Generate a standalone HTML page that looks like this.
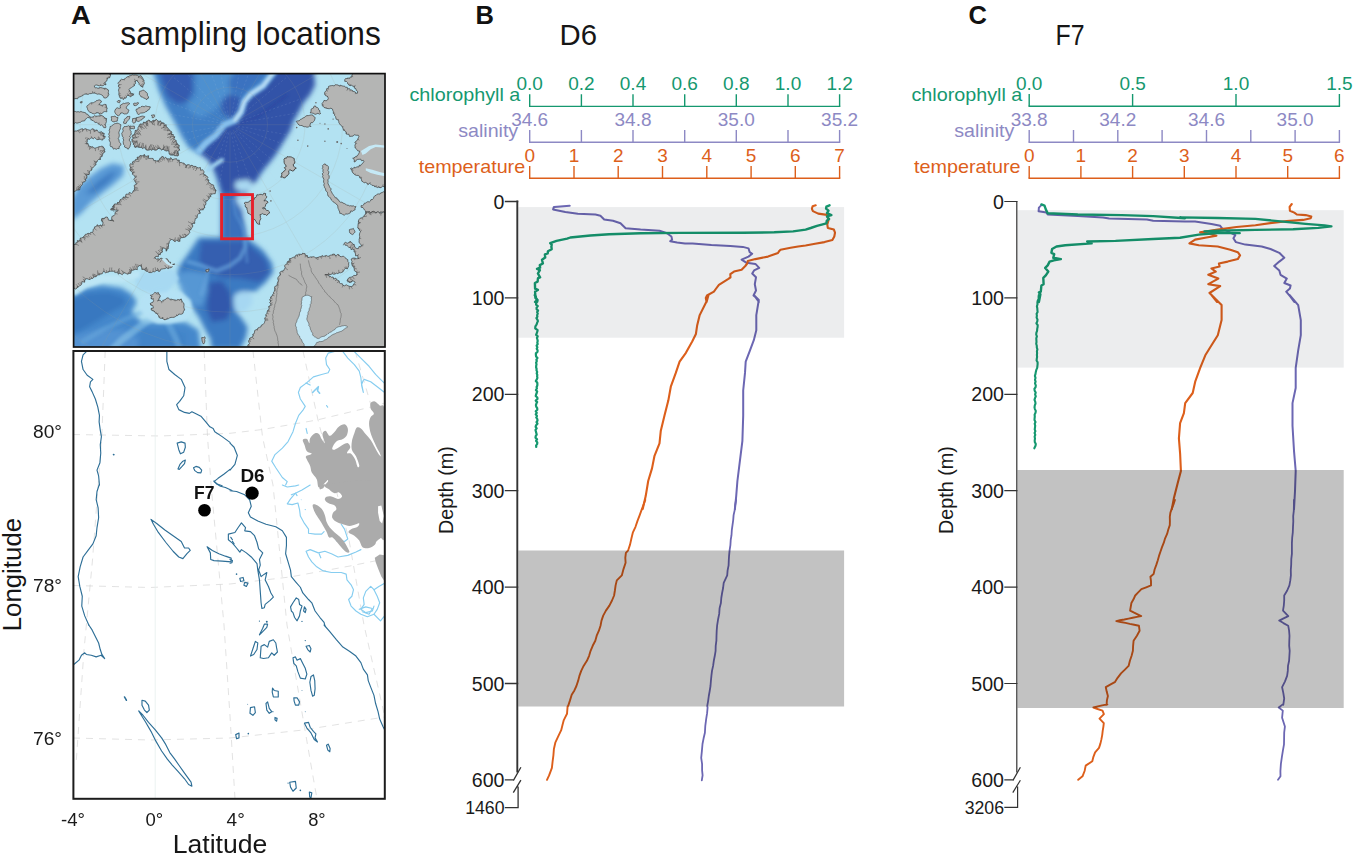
<!DOCTYPE html>
<html><head><meta charset="utf-8"><title>figure</title>
<style>html,body{margin:0;padding:0;background:#fff}svg{display:block}text{font-family:"Liberation Sans", sans-serif}</style>
</head><body>
<svg width="1353" height="856" viewBox="0 0 1353 856">
<rect width="1353" height="856" fill="#fff"/>
<text x="71" y="24.4" font-size="25.5" fill="#111" text-anchor="start" font-weight="bold" textLength="19.8" lengthAdjust="spacingAndGlyphs" >A</text>
<text x="475.5" y="24.4" font-size="25.5" fill="#111" text-anchor="start" font-weight="bold" >B</text>
<text x="968.5" y="24.4" font-size="25.5" fill="#111" text-anchor="start" font-weight="bold" >C</text>
<text x="120.3" y="45.2" font-size="32.5" fill="#161616" text-anchor="start" font-weight="normal" textLength="260.5" lengthAdjust="spacingAndGlyphs" >sampling locations</text>
<text x="559.5" y="45.2" font-size="29.5" fill="#161616" text-anchor="start" font-weight="normal" textLength="37.5" lengthAdjust="spacingAndGlyphs" >D6</text>
<text x="1055.5" y="45.2" font-size="29.5" fill="#161616" text-anchor="start" font-weight="normal" textLength="29" lengthAdjust="spacingAndGlyphs" >F7</text>
<defs><clipPath id="ct"><rect x="73.6" y="73.6" width="311.4" height="273.4"/></clipPath><filter id="bl" x="-10%" y="-10%" width="120%" height="120%"><feGaussianBlur stdDeviation="2.6"/></filter><filter id="bl2" x="-10%" y="-10%" width="120%" height="120%"><feGaussianBlur stdDeviation="1.6"/></filter></defs>
<g clip-path="url(#ct)">
<rect x="70" y="70" width="320" height="280" fill="#b3e2f2"/>

<g filter="url(#bl)"><path d="M152.0 68.0 L159.0 91.0 L166.0 107.0 L175.0 123.0 L182.0 137.0 L189.0 148.0 L199.0 153.0 L207.0 158.0 L213.0 168.0 L217.0 180.0 L221.0 194.0 L245.0 196.0 L249.6 187.8 L256.2 181.3 L262.7 171.4 L269.3 163.3 L275.8 155.1 L280.7 146.9 L285.6 138.7 L290.5 130.5 L293.8 120.7 L298.7 112.5 L303.6 102.7 L310.2 94.5 L315.1 84.7 L313.5 68.0Z" fill="#3f7fc6" opacity="1"/><path d="M159.0 70.0 L192.0 70.0 L193.0 91.0 L187.0 102.0 L177.0 104.0 L167.0 96.0Z" fill="#355cb0" opacity="1"/><path d="M196.0 70.0 L240.0 70.0 L240.0 84.0 L226.0 100.0 L212.0 112.0 L200.0 118.0 L190.0 112.0 L186.0 104.0 L196.0 96.0Z" fill="#4e90d0" opacity="1"/><path d="M230.5 91.0 L242.0 94.0 L248.0 90.0 L262.0 76.0 L262.0 70.0 L236.0 70.0 L228.0 82.0Z" fill="#3a72c0" opacity="1"/><path d="M229.0 94.0 L241.0 97.0 L240.0 112.0 L233.6 119.4 L222.0 113.0 L221.0 102.0Z" fill="#355cb0" opacity="1"/><path d="M278.0 68.0 L313.0 68.0 L315.0 85.0 L310.0 95.0 L303.0 103.0 L298.0 113.0 L293.0 121.0 L290.0 131.0 L285.0 139.0 L280.0 147.0 L275.0 155.0 L269.0 163.0 L262.0 171.0 L256.0 181.0 L249.0 188.0 L245.0 196.0 L222.0 196.0 L219.0 182.0 L214.0 170.0 L208.0 160.0 L200.0 154.0 L206.0 144.0 L214.0 136.0 L222.0 127.0 L230.0 121.0 L236.0 120.5 L241.0 112.0 L244.0 101.5 L250.5 94.0 L263.0 86.0 L273.6 76.0Z" fill="#3252a8" opacity="1"/><path d="M235.9 181.0 L248.5 179.6 L254.2 186.6 L242.9 192.3 L234.5 188.1Z" fill="#a9d9f2" opacity="1"/><path d="M221.0 193.0 L245.0 193.0 L243.0 215.0 L247.0 240.0 L221.0 240.0Z" fill="#3b70bc" opacity="1"/><path d="M237.3 195.1 L252.0 195.1 L252.0 221.7 L245.7 216.1 L240.1 206.3 L235.9 200.7Z" fill="#b3e0f4" opacity="1"/><path d="M198.8 237.4 L246.4 237.4 L263.1 250.3 L272.1 263.1 L273.4 272.1 L265.7 282.4 L255.4 291.4 L240.0 291.4 L233.6 297.8 L234.8 309.4 L242.6 319.7 L247.7 327.4 L245.8 337.7 L240.0 349.3 L211.7 349.3 L210.4 339.0 L205.3 330.0 L198.8 317.1 L188.6 301.7 L184.7 288.8 L175.7 278.6 L179.6 265.7 L188.6 252.9Z" fill="#3a7ac2" opacity="1"/><path d="M201.4 241.3 L245.1 241.3 L265.7 259.3 L269.6 273.4 L259.3 282.4 L240.0 278.6 L222.0 277.3 L207.8 270.9 L198.8 260.6Z" fill="#365fb0" opacity="1"/><path d="M209.1 282.4 L222.0 281.1 L229.7 291.4 L232.3 306.8 L227.1 319.7 L211.7 322.3 L206.6 309.4 L207.8 294.0Z" fill="#3258ac" opacity="1"/><path d="M234.8 294.0 L245.1 291.4 L252.8 295.3 L251.6 304.3 L245.1 312.0 L237.4 312.0 L233.6 304.3Z" fill="#a6d7f2" opacity="1"/><path d="M175.7 273.4 L188.6 270.9 L206.6 273.4 L207.8 291.4 L201.4 306.8 L191.1 304.3 L182.1 294.0Z" fill="#5a9ad6" opacity="0.9"/><path d="M71.6 199.2 L78.2 187.0 L88.0 178.0 L101.1 168.2 L112.5 163.3 L124.0 165.7 L123.2 175.5 L113.4 184.5 L101.9 193.5 L90.4 203.3 L81.5 213.1 L71.6 220.5Z" fill="#5a9ad6" opacity="1"/><path d="M84.7 194.3 L97.8 181.2 L110.9 172.2 L117.4 171.4 L107.6 182.9 L94.5 192.7Z" fill="#3c7cc2" opacity="1"/><path d="M70.0 296.6 L85.4 288.2 L102.1 285.0 L121.4 287.8 L131.7 294.0 L136.8 301.7 L131.7 312.0 L142.0 322.3 L185.7 322.3 L198.6 330.0 L201.1 350.6 L70.0 350.6Z" fill="#4488cc" opacity="1"/><path d="M70.0 300.4 L88.0 292.7 L108.6 291.4 L124.0 296.6 L126.6 304.3 L112.4 312.0 L95.7 322.3 L82.9 330.0 L70.0 335.1Z" fill="#3778c0" opacity="1"/><path d="M70.0 337.7 L85.4 332.6 L103.4 328.7 L124.0 330.0 L136.8 337.7 L142.0 350.6 L70.0 350.6Z" fill="#5292d2" opacity="1"/><path d="M142.0 330.0 L167.7 328.7 L185.7 333.8 L185.7 350.6 L136.8 350.6Z" fill="#4284c8" opacity="1"/></g>
<g filter="url(#bl2)"><path d="M273.6 72.0 L263.1 85.8 L250.5 94.2 L244.2 101.5 L241.0 112.0 L234.7 120.5 L224.2 124.7 L215.8 135.2 L205.3 143.6 L198.9 151.0" fill="none" stroke="#86c0ec" stroke-width="6.5" opacity="1" stroke-linecap="round" stroke-linejoin="round"/><path d="M273.6 72.0 L263.1 85.8 L250.5 94.2 L244.2 101.5 L241.0 112.0 L234.7 120.5" fill="none" stroke="#c9e8f8" stroke-width="2.2" opacity="1" stroke-linecap="round" stroke-linejoin="round"/><path d="M222.0 160.0 L213.0 166.0 L208.0 170.0" fill="none" stroke="#9fd2f0" stroke-width="4" opacity="1" stroke-linecap="round" stroke-linejoin="round"/><path d="M287.0 95.0 L270.0 108.0 L255.0 118.0 L240.0 124.0" fill="none" stroke="#24399a" stroke-width="1.2" opacity="0.7" stroke-linecap="round" stroke-linejoin="round"/><path d="M188.6 261.9 L201.4 265.7 L216.8 270.9 L229.7 265.7 L240.0 258.0 L245.1 247.7 L245.1 240.0" fill="none" stroke="#6aa6de" stroke-width="4.5" opacity="0.6" stroke-linecap="round" stroke-linejoin="round"/><path d="M207.8 270.9 L205.3 282.4 L201.4 294.0" fill="none" stroke="#6aa6de" stroke-width="4" opacity="0.5" stroke-linecap="round" stroke-linejoin="round"/><path d="M233.0 200.0 L236.0 215.0 L243.0 228.0 L246.0 245.0 L247.0 262.0" fill="none" stroke="#5a96d6" stroke-width="2.5" opacity="0.6" stroke-linecap="round" stroke-linejoin="round"/><path d="M152.3 317.1 L136.8 328.7 L121.4 340.3 L111.1 350.6" fill="none" stroke="#8cc6ea" stroke-width="7" opacity="0.55" stroke-linecap="round" stroke-linejoin="round"/><path d="M142.0 312.0 L124.0 319.7 L102.1 330.0 L82.9 341.6" fill="none" stroke="#6aaade" stroke-width="5" opacity="0.45" stroke-linecap="round" stroke-linejoin="round"/><path d="M167.7 322.3 L175.4 337.7 L180.6 350.6" fill="none" stroke="#7ab8e4" stroke-width="6" opacity="0.45" stroke-linecap="round" stroke-linejoin="round"/><path d="M139.4 300.4 L147.1 291.4 L160.0 287.6 L180.6 291.4 L190.8 300.4 L192.1 312.0 L185.7 319.7 L170.3 323.6 L157.4 323.6 L145.8 317.1 L139.4 309.4Z" fill="#b4e1f4" opacity="0.95"/><path d="M134.3 273.4 L172.8 268.9 L179.3 278.6 L167.7 291.4 L152.3 294.0 L136.8 288.8Z" fill="#a5d8f2" opacity="0.9"/><path d="M75.1 291.4 L85.4 284.4 L102.1 278.6 L121.4 278.6 L136.8 274.7" fill="none" stroke="#bfe7f5" stroke-width="7" opacity="0.9" stroke-linecap="round" stroke-linejoin="round"/></g>
<g fill="none" stroke="#a5a28c" stroke-width="0.45" opacity="0.32"><circle cx="230.0" cy="124.7" r="37.5"/><circle cx="230.0" cy="124.7" r="75.0"/><circle cx="230.0" cy="124.7" r="112.5"/><circle cx="230.0" cy="124.7" r="150.0"/><circle cx="230.0" cy="124.7" r="187.5"/><circle cx="230.0" cy="124.7" r="225.0"/><circle cx="230.0" cy="124.7" r="262.5"/><path d="M236.0 124.7 L630.0 124.7M235.2 127.7 L576.4 324.7M233.0 129.9 L430.0 471.1M230.0 130.7 L230.0 524.7M227.0 129.9 L30.0 471.1M224.8 127.7 L-116.4 324.7M224.0 124.7 L-170.0 124.7M224.8 121.7 L-116.4 -75.3M227.0 119.5 L30.0 -221.7M230.0 118.7 L230.0 -275.3M233.0 119.5 L430.0 -221.7M235.2 121.7 L576.4 -75.3"/></g>
<path d="M237.9 126.1 L303.9 137.7M237.5 127.4 L300.5 150.4M236.1 129.8 L287.5 172.9M235.1 130.8 L278.2 182.2M232.7 132.2 L255.7 195.2M231.4 132.6 L243.0 198.6M228.6 132.6 L217.0 198.6M227.3 132.2 L204.3 195.2M224.9 130.8 L181.8 182.2M223.9 129.8 L172.5 172.9M222.5 127.4 L159.5 150.4M222.1 126.1 L156.1 137.7M222.1 123.3 L156.1 111.7M222.5 122.0 L159.5 99.0M223.9 119.6 L172.5 76.5M224.9 118.6 L181.8 67.2M227.3 117.2 L204.3 54.2M228.6 116.8 L217.0 50.8M231.4 116.8 L243.0 50.8M232.7 117.2 L255.7 54.2M235.1 118.6 L278.2 67.2M236.1 119.6 L287.5 76.5M237.5 122.0 L300.5 99.0M237.9 123.3 L303.9 111.7" fill="none" stroke="#c9d3ea" stroke-width="0.45" stroke-dasharray="2.2 2" opacity="0.28"/>
<path d="M70.5 70.2 L71.7 71.0 L73.0 70.9 L74.2 70.1 L75.5 70.5 L76.8 70.4 L78.0 70.7 L79.3 70.9 L80.5 69.9 L81.8 69.8 L83.1 71.0 L84.3 70.4 L85.6 70.9 L86.9 69.7 L88.1 70.4 L89.4 70.8 L90.6 70.1 L91.9 71.1 L93.2 71.1 L94.4 69.8 L95.7 69.8 L96.9 70.5 L98.2 71.1 L99.5 70.3 L100.7 70.0 L102.0 70.4 L103.2 69.8 L104.5 70.0 L105.8 70.4 L107.0 70.5 L108.3 70.1 L109.5 70.1 L110.8 70.0 L112.1 70.5 L112.0 71.8 L112.0 73.1 L110.5 74.0 L110.5 75.3 L110.1 76.5 L109.6 77.8 L107.8 77.9 L107.2 79.2 L106.7 81.1 L105.1 82.1 L105.2 83.7 L106.0 84.8 L104.4 84.6 L103.2 85.7 L101.8 85.7 L100.6 85.5 L99.2 85.9 L98.0 85.4 L96.7 85.0 L95.5 85.2 L94.3 85.9 L94.6 87.1 L95.2 87.9 L96.6 87.7 L98.1 88.4 L99.4 87.7 L100.9 87.6 L102.4 88.0 L103.9 88.4 L105.5 88.3 L107.0 89.0 L108.4 90.1 L108.5 91.5 L108.2 92.9 L108.8 94.3 L108.2 95.8 L107.4 97.1 L105.8 98.0 L103.9 97.8 L103.2 96.2 L101.9 95.0 L100.4 94.4 L99.0 93.9 L97.4 94.2 L95.9 93.5 L94.3 93.1 L92.7 93.1 L91.2 93.6 L89.6 93.6 L88.1 94.4 L86.5 94.1 L84.8 94.1 L83.7 94.8 L82.5 95.6 L81.3 96.3 L79.9 96.9 L78.4 97.1 L77.6 98.8 L76.0 98.5 L74.5 98.8 L73.1 99.1 L71.8 99.7 L70.7 100.4 L70.5 99.1 L70.6 97.8 L70.4 96.5 L69.8 95.2 L71.0 93.9 L70.6 92.6 L70.0 91.3 L70.5 90.0 L70.4 88.7 L70.3 87.4 L70.2 86.1 L70.5 84.8 L70.7 83.5 L70.6 82.2 L70.4 80.9 L69.8 79.6 L70.1 78.3 L70.0 77.0 L70.6 75.7 L71.0 74.4 L70.9 73.1 L70.9 71.8Z" fill="#b4b5b4" stroke="#3e3e3e" stroke-width="0.7" stroke-linejoin="round"/><path d="M110.5 75.3 L109.5 74.5 L109.4 73.8M109.6 77.8 L109.2 77.2 L108.8 76.1M107.8 77.9 L107.1 78.1 L107.0 77.6M107.2 79.2 L106.4 78.4 L106.4 78.3M105.2 83.7 L104.5 82.5 L104.6 82.2M106.0 84.8 L105.7 84.3 L105.9 83.5M104.4 84.6 L103.6 83.5 L103.5 83.0M100.6 85.5 L100.7 84.9 L100.8 84.0M99.4 87.7 L99.4 88.1 L99.0 88.7M103.9 88.4 L104.3 89.2 L104.0 89.3M105.5 88.3 L105.0 89.3 L104.6 90.0M108.4 90.1 L108.1 89.9 L107.5 89.8M108.8 94.3 L108.5 93.8 L108.1 93.4M108.2 95.8 L108.0 95.4 L107.7 95.1M94.3 93.1 L94.7 92.1 L94.8 91.8M92.7 93.1 L92.7 92.2 L92.5 91.2M86.5 94.1 L86.2 93.9 L86.2 93.2M82.5 95.6 L82.6 94.9 L82.6 94.7" fill="none" stroke="#3e3e3e" stroke-width="0.55" opacity="0.85"/><path d="M118.3 82.4 L119.7 81.7 L120.4 80.0 L121.5 79.2 L123.1 79.8 L124.3 79.0 L125.7 78.2 L127.0 76.9 L128.5 76.5 L129.8 75.7 L131.1 75.6 L132.2 74.8 L133.6 75.1 L135.4 75.0 L137.3 75.3 L138.4 76.0 L139.7 76.1 L141.0 75.6 L141.7 76.8 L142.6 77.9 L143.2 79.2 L144.0 80.3 L143.9 81.8 L144.4 83.1 L144.0 84.5 L142.8 85.7 L142.9 87.3 L141.1 86.3 L140.1 85.5 L139.2 84.5 L139.1 83.1 L137.8 82.0 L137.3 80.3 L135.8 80.7 L135.3 82.1 L135.6 83.5 L134.2 84.5 L134.4 85.7 L132.9 86.5 L131.5 87.6 L130.1 88.4 L128.7 89.7 L130.0 90.9 L130.5 92.6 L131.2 93.9 L133.0 93.9 L133.5 95.1 L132.0 95.6 L130.7 96.7 L129.4 95.9 L127.9 95.2 L126.5 96.3 L126.1 98.0 L124.5 98.3 L123.2 99.5 L121.9 98.2 L120.2 98.0 L119.5 96.8 L119.2 95.5 L118.8 94.3 L119.0 92.9 L118.8 91.5 L118.5 90.1 L119.0 88.7 L119.2 87.3 L118.2 86.1 L119.1 84.7 L118.0 83.5Z" fill="#b4b5b4" stroke="#3e3e3e" stroke-width="0.7" stroke-linejoin="round"/><path d="M120.4 80.0 L120.7 80.8 L120.7 81.2M124.3 79.0 L124.4 79.8 L124.5 80.3M128.5 76.5 L129.0 77.2 L128.9 78.1M138.4 76.0 L138.9 77.3 L139.0 78.2M139.7 76.1 L138.6 77.1 L138.2 78.0M141.7 76.8 L140.9 77.8 L139.8 77.9M142.6 77.9 L141.7 78.5 L141.0 78.5M143.2 79.2 L142.7 79.6 L141.9 79.3M144.0 80.3 L143.2 80.8 L142.2 81.6M142.8 85.7 L143.1 84.0 L142.7 83.4M141.1 86.3 L141.7 86.0 L142.5 86.3M140.1 85.5 L141.4 84.8 L142.0 84.8M135.8 80.7 L135.0 79.6 L134.2 79.1M135.3 82.1 L135.0 81.7 L134.0 80.8M134.4 85.7 L134.2 84.8 L133.8 83.7M130.0 90.9 L128.9 91.6 L128.3 92.1M130.5 92.6 L129.8 93.7 L128.9 94.1M131.2 93.9 L130.8 93.6 L130.1 93.8M133.0 93.9 L131.7 93.4 L130.9 93.3M133.5 95.1 L133.6 94.2 L133.7 93.2M132.0 95.6 L131.8 95.3 L132.2 94.3M130.7 96.7 L130.7 95.2 L130.7 94.4M129.4 95.9 L128.4 95.3 L128.4 94.6M127.9 95.2 L127.9 94.2 L127.2 93.4M126.5 96.3 L126.0 95.7 L125.7 95.4M124.5 98.3 L124.5 97.1 L123.9 96.7M123.2 99.5 L123.5 98.5 L123.6 98.1M121.9 98.2 L122.2 97.3 L122.7 97.3M120.2 98.0 L120.7 98.3 L121.3 98.0M119.2 95.5 L120.4 95.8 L121.2 95.4M118.8 94.3 L119.7 93.9 L120.7 93.7M119.2 87.3 L119.9 87.7 L120.9 87.8M118.2 86.1 L118.5 85.9 L119.4 85.6M119.1 84.7 L120.6 84.6 L121.5 84.5" fill="none" stroke="#3e3e3e" stroke-width="0.55" opacity="0.85"/><path d="M139.6 91.4 L141.0 91.1 L142.4 90.4 L143.8 90.1 L144.9 91.4 L146.4 92.3 L147.4 93.6 L147.4 95.3 L148.3 96.5 L148.6 98.1 L147.1 98.6 L146.6 99.9 L145.5 98.6 L143.8 98.0 L142.5 97.2 L140.9 96.7 L140.2 95.4 L139.3 94.3 L139.4 92.9Z" fill="#b4b5b4" stroke="#3e3e3e" stroke-width="0.7" stroke-linejoin="round"/><path d="M86.7 106.8 L87.3 105.6 L88.6 104.9 L89.5 103.9 L90.5 102.9 L91.9 102.8 L93.4 102.9 L94.4 101.9 L95.6 101.7 L96.5 100.5 L97.8 100.4 L99.0 99.8 L100.4 100.2 L101.5 101.5 L100.5 103.0 L98.9 104.4 L100.1 104.9 L101.4 105.2 L102.7 105.2 L104.3 104.4 L106.1 104.5 L106.3 105.9 L106.6 107.2 L107.2 108.3 L106.6 109.9 L106.9 111.8 L105.7 111.6 L104.4 111.6 L103.2 112.1 L102.3 113.4 L100.8 113.9 L99.4 114.2 L98.5 112.7 L97.0 112.8 L95.8 113.2 L94.7 113.9 L93.5 113.7 L92.2 113.4 L91.1 112.5 L89.8 112.4 L88.7 111.1 L87.7 109.7 L87.4 108.3Z" fill="#b4b5b4" stroke="#3e3e3e" stroke-width="0.7" stroke-linejoin="round"/><path d="M91.9 102.8 L91.5 103.9 L91.7 104.6M101.5 101.5 L101.3 101.3 L100.7 101.5M98.9 104.4 L98.2 105.1 L98.2 105.0M101.4 105.2 L101.1 106.0 L101.1 106.0M102.7 105.2 L102.6 106.1 L102.1 106.9M106.3 105.9 L105.9 105.6 L105.3 106.0M106.6 107.2 L105.6 107.3 L104.7 107.3M107.2 108.3 L106.7 108.1 L105.9 107.9M99.4 114.2 L99.7 113.2 L100.5 112.6M97.0 112.8 L96.4 112.0 L96.4 112.0" fill="none" stroke="#3e3e3e" stroke-width="0.55" opacity="0.85"/><path d="M120.5 105.1 L122.0 104.3 L123.3 103.3 L124.6 103.5 L125.8 103.1 L127.0 102.9 L128.6 102.7 L129.8 103.7 L128.3 104.5 L127.4 105.9 L126.4 106.9 L126.2 108.2 L127.5 109.2 L129.0 110.2 L128.4 111.6 L127.9 113.0 L126.8 113.8 L125.5 113.9 L124.2 114.0 L122.7 113.0 L120.8 112.9 L120.0 114.6 L118.7 115.7 L117.0 115.2 L115.8 113.9 L115.1 112.8 L114.7 111.6 L115.0 110.3 L115.8 108.8 L117.2 107.7 L118.8 108.4 L120.6 107.9 L120.2 106.4Z" fill="#b4b5b4" stroke="#3e3e3e" stroke-width="0.7" stroke-linejoin="round"/><path d="M118.1 100.5 L120.3 100.8 L119.5 102.7 L118.3 102.5 L117.0 101.7Z" fill="#b4b5b4" stroke="#3e3e3e" stroke-width="0.7" stroke-linejoin="round"/><path d="M133.5 103.6 L134.8 103.1 L136.1 103.4 L137.3 102.6 L138.7 102.9 L137.3 104.8 L135.8 105.6 L134.0 105.5Z" fill="#b4b5b4" stroke="#3e3e3e" stroke-width="0.7" stroke-linejoin="round"/><path d="M136.3 109.1 L137.7 109.1 L138.5 107.7 L140.0 107.7 L141.0 106.7 L142.5 106.3 L144.2 106.8 L145.7 105.9 L147.2 106.4 L148.8 106.6 L150.4 106.9 L149.7 108.3 L149.0 109.8 L147.7 110.0 L147.0 111.3 L145.7 111.7 L144.6 112.5 L143.3 112.8 L142.0 113.0 L140.6 113.1 L139.5 114.0 L138.1 114.5 L137.3 113.4 L137.0 112.0 L136.1 110.7Z" fill="#b4b5b4" stroke="#3e3e3e" stroke-width="0.7" stroke-linejoin="round"/><path d="M151.3 115.3 L152.7 115.0 L154.3 114.8 L154.5 116.6 L153.6 117.7 L152.2 117.7 L152.2 116.3Z" fill="#b4b5b4" stroke="#3e3e3e" stroke-width="0.7" stroke-linejoin="round"/><path d="M111.1 116.8 L112.4 116.5 L113.6 116.5 L114.9 116.1 L116.4 117.3 L118.0 117.6 L117.5 119.3 L117.2 121.1 L115.6 121.4 L113.9 121.9 L112.4 121.4 L111.3 120.5 L111.6 118.6Z" fill="#b4b5b4" stroke="#3e3e3e" stroke-width="0.7" stroke-linejoin="round"/><path d="M124.2 119.5 L125.2 118.6 L126.4 118.0 L127.0 116.7 L128.4 116.5 L129.8 116.3 L129.7 118.0 L128.9 119.5 L127.8 120.7 L126.8 121.8 L126.1 123.4 L123.7 123.3 L123.5 122.0 L124.4 120.8Z" fill="#b4b5b4" stroke="#3e3e3e" stroke-width="0.7" stroke-linejoin="round"/><path d="M132.6 118.6 L134.0 118.5 L135.4 118.1 L135.8 119.5 L135.9 120.9 L135.4 122.4 L133.5 123.3 L132.3 121.4 L132.6 120.0Z" fill="#b4b5b4" stroke="#3e3e3e" stroke-width="0.7" stroke-linejoin="round"/><path d="M136.3 117.6 L138.0 117.4 L139.5 116.9 L141.0 116.4 L142.3 116.1 L143.6 116.3 L144.9 116.8 L144.0 117.9 L142.7 118.4 L142.0 119.7 L140.7 120.1 L139.6 121.0 L138.2 121.5 L136.1 120.5 L136.6 119.1Z" fill="#b4b5b4" stroke="#3e3e3e" stroke-width="0.7" stroke-linejoin="round"/><path d="M129.8 125.9 L131.4 126.3 L132.9 126.2 L134.3 126.1 L134.5 128.5 L133.3 128.8 L132.0 128.5 L130.8 128.9 L130.1 127.5Z" fill="#b4b5b4" stroke="#3e3e3e" stroke-width="0.7" stroke-linejoin="round"/><path d="M80.5 101.8 L82.2 101.6 L82.0 102.8 L80.3 102.9Z" fill="#b4b5b4" stroke="#3e3e3e" stroke-width="0.7" stroke-linejoin="round"/><path d="M70.5 111.0 L71.7 111.2 L73.0 111.3 L74.3 111.4 L75.6 111.5 L76.8 112.0 L78.1 111.6 L79.3 112.1 L81.0 111.5 L82.5 112.1 L84.1 112.4 L85.5 112.7 L86.3 114.1 L87.8 114.3 L88.6 115.9 L90.0 116.5 L89.2 117.7 L87.6 117.5 L86.7 118.4 L85.4 119.2 L84.7 120.8 L83.1 121.0 L81.8 121.2 L80.7 122.2 L79.4 122.5 L78.1 122.9 L76.9 123.2 L75.5 122.6 L74.3 123.5 L73.0 123.7 L71.7 123.6 L70.7 124.0 L70.2 122.7 L69.8 121.4 L71.2 120.1 L71.0 118.9 L70.9 117.6 L70.5 116.3 L70.1 115.0 L69.9 113.7 L70.2 112.4Z" fill="#b4b5b4" stroke="#3e3e3e" stroke-width="0.7" stroke-linejoin="round"/><path d="M90.1 117.2 L91.6 117.2 L93.1 116.9 L94.3 115.7 L95.9 116.2 L97.4 116.1 L99.0 115.9 L100.6 115.5 L102.2 115.7 L103.7 116.7 L104.8 118.0 L106.6 118.6 L106.3 120.2 L106.4 121.7 L105.8 123.3 L105.2 124.8 L105.8 126.4 L105.7 127.7 L103.7 127.6 L102.8 125.9 L101.7 124.9 L100.0 125.3 L99.0 124.1 L97.8 123.5 L96.8 122.3 L95.1 122.5 L94.2 121.7 L93.3 120.6 L92.0 120.4 L91.1 119.5 L90.2 118.6Z" fill="#b4b5b4" stroke="#3e3e3e" stroke-width="0.7" stroke-linejoin="round"/><path d="M93.1 116.9 L93.2 117.6 L93.5 117.8M95.9 116.2 L96.3 116.9 L96.0 117.3M100.6 115.5 L99.9 116.7 L99.9 117.0M103.7 116.7 L102.9 116.7 L102.7 116.8M104.8 118.0 L104.2 118.4 L103.8 119.1M106.6 118.6 L105.3 118.7 L104.9 118.7M106.3 120.2 L105.7 120.0 L105.3 119.9M105.2 124.8 L104.8 124.4 L104.2 124.6M99.0 124.1 L99.1 122.8 L99.1 122.5M90.2 118.6 L90.8 119.4 L90.8 120.3" fill="none" stroke="#3e3e3e" stroke-width="0.55" opacity="0.85"/><path d="M71.5 132.7 L72.9 132.9 L73.8 131.7 L74.9 130.9 L76.3 131.1 L77.5 130.6 L78.6 130.1 L79.8 129.7 L81.1 129.0 L82.4 128.8 L83.8 129.7 L85.0 128.6 L86.3 129.1 L87.7 129.7 L89.0 130.0 L90.3 130.4 L91.9 128.8 L93.2 129.0 L94.5 129.9 L95.6 130.3 L97.1 130.0 L97.9 131.5 L98.9 132.4 L100.1 132.8 L101.8 131.9 L102.9 132.9 L104.4 133.7 L102.9 136.0 L105.2 136.4 L105.0 137.7 L104.0 138.6 L102.9 139.4 L101.9 140.3 L100.9 139.2 L99.5 139.3 L98.1 139.6 L96.7 139.6 L95.7 138.4 L94.5 137.5 L93.3 138.9 L91.9 137.8 L90.6 138.1 L89.4 139.4 L88.3 138.8 L87.2 139.8 L87.3 141.2 L87.0 142.5 L86.4 143.6 L88.1 143.6 L88.5 145.7 L89.9 146.3 L91.3 146.9 L92.6 146.7 L93.8 148.0 L95.1 148.2 L96.5 147.7 L97.8 147.3 L99.1 146.7 L100.6 146.5 L102.0 146.1 L103.4 146.9 L103.8 148.2 L105.0 149.1 L103.8 150.9 L105.1 151.7 L103.8 152.6 L102.9 153.8 L102.4 155.2 L101.9 156.7 L100.1 156.9 L100.5 159.4 L98.5 159.5 L97.5 160.6 L97.0 162.0 L95.6 162.6 L96.0 164.7 L94.7 165.5 L93.9 166.7 L93.1 167.7 L91.7 168.2 L91.9 170.0 L90.7 170.7 L89.3 171.3 L89.4 173.0 L89.1 174.5 L86.6 174.8 L86.9 176.6 L86.8 178.2 L85.5 179.0 L85.7 180.6 L85.0 181.7 L83.1 182.0 L82.6 183.2 L82.3 184.6 L81.4 185.6 L80.5 186.7 L79.9 188.0 L79.8 189.7 L78.1 190.0 L76.7 189.9 L75.6 191.1 L74.3 191.5 L72.9 191.3 L71.6 191.9 L71.4 190.6 L72.5 189.4 L72.6 188.1 L70.8 186.9 L70.8 185.6 L72.3 184.4 L72.7 183.1 L72.2 181.9 L71.1 180.6 L70.6 179.4 L72.4 178.1 L72.7 176.8 L72.3 175.6 L72.2 174.3 L72.8 173.1 L71.7 171.8 L72.7 170.6 L71.1 169.3 L70.6 168.1 L72.5 166.8 L72.1 165.6 L72.3 164.3 L70.7 163.1 L71.2 161.8 L71.8 160.6 L70.6 159.3 L71.2 158.0 L71.9 156.8 L72.7 155.5 L72.2 154.3 L71.4 153.0 L71.4 151.8 L71.7 150.5 L72.2 149.3 L72.8 148.0 L70.5 146.8 L72.7 145.5 L72.4 144.3 L70.5 143.0 L71.1 141.8 L71.1 140.5 L71.0 139.3 L70.8 138.0 L70.8 136.7 L72.1 135.5 L71.5 134.2Z" fill="#b4b5b4" stroke="#3e3e3e" stroke-width="0.7" stroke-linejoin="round"/><path d="M77.5 130.6 L78.8 132.1 L79.9 133.0M78.6 130.1 L80.2 131.7 L81.1 132.5M82.4 128.8 L82.5 130.5 L81.9 131.3M83.8 129.7 L82.7 130.5 L82.4 131.8M86.3 129.1 L86.6 130.9 L87.1 131.7M90.3 130.4 L90.5 131.9 L90.4 133.8M93.2 129.0 L93.5 130.1 L94.0 131.4M94.5 129.9 L94.5 130.7 L94.3 131.6M97.1 130.0 L95.3 131.2 L93.8 131.9M100.1 132.8 L100.7 134.3 L100.9 135.4M101.8 131.9 L100.5 131.4 L99.4 131.2M102.9 132.9 L101.9 134.7 L100.8 135.5M104.4 133.7 L102.2 133.5 L101.1 133.6M105.2 136.4 L103.7 136.0 L102.4 136.1M104.0 138.6 L103.6 136.9 L103.0 134.9M101.9 140.3 L102.3 139.3 L102.2 138.2M99.5 139.3 L99.1 137.4 L98.6 136.5M98.1 139.6 L98.3 138.3 L98.2 136.9M91.9 137.8 L91.5 136.6 L90.9 136.1M89.4 139.4 L88.0 138.5 L86.5 137.5M87.2 139.8 L86.0 138.5 L85.0 137.7M87.3 141.2 L86.3 141.0 L85.4 141.5M87.0 142.5 L85.7 143.5 L84.8 143.6M88.1 143.6 L86.9 144.1 L86.4 144.0M88.5 145.7 L88.5 146.2 L88.0 147.3M89.9 146.3 L89.5 148.0 L89.6 148.9M91.3 146.9 L90.3 148.5 L89.2 149.8M92.6 146.7 L92.2 147.3 L92.2 148.4M95.1 148.2 L95.4 149.5 L95.5 151.1M99.1 146.7 L98.4 148.8 L98.4 150.1M103.8 148.2 L102.8 147.8 L101.7 147.7M103.8 150.9 L101.8 150.7 L99.9 150.6M105.1 151.7 L104.3 150.1 L103.7 149.3M103.8 152.6 L102.7 152.0 L102.1 151.1M102.9 153.8 L101.0 152.5 L99.9 151.2M102.4 155.2 L100.8 154.5 L99.6 153.8M101.9 156.7 L101.6 155.5 L100.9 154.8M100.5 159.4 L99.7 158.6 L99.1 158.3M97.0 162.0 L95.1 161.6 L93.9 162.0M95.6 162.6 L94.8 161.6 L94.0 160.4M96.0 164.7 L95.4 164.0 L94.2 163.0M94.7 165.5 L94.0 164.8 L93.9 163.7M91.7 168.2 L91.2 167.3 L90.3 165.9M91.9 170.0 L90.9 169.4 L90.5 168.8M89.3 171.3 L88.0 170.8 L87.1 170.4M89.4 173.0 L88.3 172.6 L87.5 171.9M89.1 174.5 L87.1 174.0 L85.4 173.9M86.6 174.8 L85.1 174.0 L83.6 173.0M86.9 176.6 L86.0 175.0 L84.8 174.3M86.8 178.2 L86.4 177.6 L85.7 176.9M85.5 179.0 L84.5 177.6 L84.2 176.1M85.7 180.6 L84.7 179.2 L83.7 178.4M83.1 182.0 L82.6 182.3 L81.5 181.9M81.4 185.6 L81.1 185.2 L80.2 184.4M80.5 186.7 L79.3 185.4 L78.7 184.8M79.9 188.0 L79.3 186.8 L78.6 186.5M79.8 189.7 L78.5 189.2 L78.2 188.3M78.1 190.0 L78.6 187.5 L78.3 186.1M76.7 189.9 L76.9 188.0 L77.4 186.5" fill="none" stroke="#3e3e3e" stroke-width="0.55" opacity="0.85"/><path d="M110.1 126.5 L111.5 126.2 L112.4 125.2 L113.5 124.5 L114.6 123.7 L115.7 123.5 L117.1 123.2 L118.4 123.4 L119.6 124.0 L120.9 124.8 L120.7 126.2 L120.4 127.5 L120.4 128.9 L119.7 130.1 L119.2 131.4 L118.8 132.8 L119.2 134.3 L119.3 135.8 L118.9 137.3 L118.2 138.7 L119.0 139.9 L119.1 141.3 L119.7 142.6 L120.8 143.6 L120.9 145.1 L119.5 146.0 L119.1 147.2 L119.1 148.6 L117.6 148.5 L116.3 149.3 L114.7 148.5 L113.5 149.2 L112.9 148.0 L112.3 146.8 L110.6 146.6 L110.1 145.3 L110.3 143.8 L110.3 142.4 L109.6 141.1 L109.0 139.7 L109.7 138.2 L108.7 136.9 L109.4 135.5 L108.6 134.1 L109.4 132.9 L109.6 131.6 L109.1 130.2 L109.8 129.0 L110.0 127.7Z" fill="#b4b5b4" stroke="#3e3e3e" stroke-width="0.7" stroke-linejoin="round"/><path d="M124.0 126.7 L125.7 126.5 L127.3 126.3 L128.7 125.7 L129.9 126.9 L129.9 128.6 L130.1 130.2 L131.1 131.3 L131.0 132.6 L131.3 133.9 L130.7 135.1 L129.5 136.1 L130.6 137.6 L129.8 138.7 L129.1 140.1 L130.1 141.3 L130.7 142.6 L130.7 143.9 L130.3 145.1 L129.9 146.8 L129.0 148.0 L128.1 149.3 L127.3 148.1 L125.9 147.7 L124.5 146.9 L124.7 145.5 L123.5 144.3 L123.3 142.9 L123.2 141.5 L123.8 140.0 L123.0 138.7 L123.3 137.4 L122.3 136.2 L122.1 134.9 L121.7 133.6 L122.5 132.2 L123.3 130.9 L122.7 129.2 L123.2 127.8Z" fill="#b4b5b4" stroke="#3e3e3e" stroke-width="0.7" stroke-linejoin="round"/><path d="M132.7 135.2 L134.1 134.6 L134.7 133.4 L135.1 132.0 L135.2 130.5 L137.2 130.2 L138.0 129.1 L138.0 127.6 L138.7 126.4 L139.4 125.2 L140.2 123.9 L141.8 124.1 L143.2 123.9 L143.5 122.0 L145.3 122.7 L146.4 121.3 L147.8 120.8 L149.0 119.9 L151.1 122.0 L152.3 120.9 L153.3 120.3 L154.7 120.6 L156.5 119.5 L157.7 120.7 L158.9 121.5 L160.6 120.9 L161.3 122.7 L162.8 122.9 L164.2 123.3 L164.0 125.5 L166.2 124.8 L166.2 126.7 L167.4 127.5 L168.0 128.7 L169.3 129.5 L169.8 130.8 L171.3 131.4 L171.8 132.7 L171.3 134.6 L173.4 134.7 L172.9 136.6 L174.9 136.8 L173.9 138.9 L174.8 139.9 L176.1 140.4 L176.2 142.0 L177.1 143.1 L177.2 144.6 L179.3 145.5 L178.9 147.1 L178.9 148.5 L179.8 150.1 L177.6 151.3 L177.5 152.8 L178.5 154.5 L178.0 156.0 L176.3 155.7 L174.7 155.6 L173.4 154.6 L171.8 154.6 L170.2 154.8 L169.2 154.0 L169.0 151.8 L168.3 150.5 L166.5 151.0 L165.3 150.6 L164.1 150.0 L163.1 149.1 L161.4 150.1 L160.5 148.7 L159.1 148.5 L157.9 148.5 L156.9 149.9 L155.7 150.2 L154.3 150.0 L152.8 148.8 L151.8 150.3 L150.6 149.6 L149.1 150.0 L147.6 150.2 L146.3 150.0 L145.3 148.2 L144.0 147.6 L142.6 148.5 L141.4 147.5 L140.1 147.4 L138.8 147.3 L137.3 146.2 L135.4 147.4 L134.3 146.7 L134.6 145.3 L133.2 144.4 L133.6 142.9 L132.2 142.0 L132.0 140.6 L131.8 139.3 L133.7 138.2 L131.9 136.6Z" fill="#b4b5b4" stroke="#3e3e3e" stroke-width="0.7" stroke-linejoin="round"/><path d="M132.7 135.2 L134.2 135.8 L135.8 136.3M134.1 134.6 L136.6 133.9 L138.2 133.7M134.7 133.4 L135.5 136.2 L136.9 138.3M135.1 132.0 L137.0 133.5 L139.2 134.8M135.2 130.5 L137.5 132.2 L140.0 134.1M137.2 130.2 L139.6 132.8 L140.9 135.4M138.0 129.1 L139.7 130.8 L140.7 131.6M138.7 126.4 L141.9 127.3 L144.6 128.6M139.4 125.2 L140.6 127.4 L142.1 129.8M140.2 123.9 L140.7 125.3 L141.2 127.2M141.8 124.1 L142.0 125.9 L142.1 127.2M143.2 123.9 L144.8 126.5 L146.7 128.6M143.5 122.0 L145.9 124.4 L148.3 126.2M145.3 122.7 L146.7 123.2 L148.5 124.2M146.4 121.3 L147.1 123.9 L147.9 125.7M147.8 120.8 L146.7 124.4 L145.9 126.7M149.0 119.9 L149.3 121.2 L150.3 122.9M151.1 122.0 L152.4 123.4 L153.7 125.0M152.3 120.9 L152.2 123.2 L152.5 124.5M153.3 120.3 L154.0 123.1 L154.6 125.5M154.7 120.6 L153.5 122.1 L152.8 122.6M156.5 119.5 L154.6 120.7 L153.3 122.1M157.7 120.7 L158.0 123.5 L158.0 125.4M158.9 121.5 L158.3 123.2 L157.8 125.1M160.6 120.9 L159.4 122.7 L158.8 123.5M161.3 122.7 L160.5 124.8 L160.4 126.1M162.8 122.9 L160.6 124.6 L158.6 125.7M164.2 123.3 L162.1 123.2 L160.2 123.7M164.0 125.5 L163.7 126.8 L163.4 128.1M166.2 124.8 L164.8 125.4 L164.3 126.6M166.2 126.7 L163.5 127.5 L161.0 128.4M167.4 127.5 L165.9 128.2 L164.4 128.2M168.0 128.7 L167.7 130.3 L167.7 131.3M169.8 130.8 L166.7 130.1 L163.5 129.8M171.3 131.4 L170.4 133.0 L169.2 135.1M171.8 132.7 L169.3 133.9 L167.3 135.2M171.3 134.6 L170.8 136.8 L169.8 138.6M173.4 134.7 L170.0 133.9 L167.6 133.9M172.9 136.6 L169.8 136.9 L167.2 137.6M174.9 136.8 L172.2 138.8 L170.2 140.1M173.9 138.9 L172.9 140.7 L171.9 142.8M176.1 140.4 L174.8 141.8 L173.2 142.7M176.2 142.0 L174.7 141.9 L173.0 142.4M177.1 143.1 L175.7 145.0 L174.3 146.9M177.2 144.6 L173.6 144.0 L171.0 144.1M179.3 145.5 L177.5 144.3 L175.5 143.7M178.9 147.1 L175.6 147.3 L173.3 146.8M178.9 148.5 L177.4 146.9 L176.1 145.3M179.8 150.1 L178.1 148.4 L176.9 147.3M177.6 151.3 L175.9 150.8 L174.5 150.5M177.5 152.8 L176.1 153.0 L174.6 152.8M178.5 154.5 L178.4 152.3 L177.9 151.2M178.0 156.0 L177.6 154.0 L177.9 152.5M176.3 155.7 L176.7 154.1 L177.4 152.9M174.7 155.6 L174.4 153.0 L174.6 151.0M173.4 154.6 L175.3 152.1 L176.7 149.7M171.8 154.6 L173.2 153.1 L174.1 151.7M170.2 154.8 L172.2 155.5 L173.8 155.3M169.2 154.0 L170.5 153.6 L172.0 152.9M169.0 151.8 L168.8 148.4 L169.0 146.2M168.3 150.5 L167.6 147.9 L167.3 145.8M166.5 151.0 L167.1 149.1 L167.7 147.2M165.3 150.6 L166.1 148.1 L166.2 145.6M164.1 150.0 L163.6 146.9 L163.7 144.7M163.1 149.1 L164.3 147.8 L164.9 146.0M161.4 150.1 L163.4 148.3 L164.5 146.8M160.5 148.7 L158.8 146.6 L157.3 144.8M159.1 148.5 L158.1 147.7 L157.6 146.4M157.9 148.5 L156.3 146.7 L155.1 145.8M156.9 149.9 L157.5 148.7 L158.5 147.7M155.7 150.2 L155.0 148.7 L154.7 147.3M154.3 150.0 L154.3 147.8 L154.8 146.7M152.8 148.8 L153.4 146.4 L153.7 145.0M151.8 150.3 L152.1 149.2 L152.5 147.6M150.6 149.6 L151.1 147.2 L152.2 144.5M149.1 150.0 L149.8 146.6 L151.1 144.1M147.6 150.2 L148.8 148.1 L150.3 145.7M146.3 150.0 L146.2 147.7 L145.8 145.7M145.3 148.2 L145.7 146.1 L145.9 144.6M144.0 147.6 L143.3 144.8 L143.3 143.1M142.6 148.5 L141.9 146.6 L142.0 145.6M141.4 147.5 L142.2 144.5 L142.2 142.8M140.1 147.4 L139.5 145.8 L139.6 144.0M138.8 147.3 L137.8 144.5 L137.2 141.6M137.3 146.2 L139.2 144.3 L140.3 142.3M135.4 147.4 L136.2 145.8 L136.6 144.8M134.3 146.7 L136.9 147.0 L138.7 147.1M134.6 145.3 L136.1 143.1 L137.3 140.8M133.2 144.4 L135.4 142.7 L137.1 141.0M133.6 142.9 L135.3 141.3 L137.1 140.7M132.0 140.6 L134.2 141.9 L135.7 142.4M131.8 139.3 L133.7 140.7 L135.7 141.7M133.7 138.2 L136.8 137.4 L139.1 136.6M131.9 136.6 L134.2 137.7 L135.5 138.0" fill="none" stroke="#3e3e3e" stroke-width="0.55" opacity="0.85"/><path d="M130.1 166.8 L129.8 164.9 L130.4 163.7 L133.2 164.4 L132.3 162.1 L133.5 161.3 L135.1 160.9 L135.5 159.4 L137.5 159.4 L137.2 157.2 L138.9 157.2 L140.0 155.6 L141.7 155.7 L143.5 155.9 L144.3 154.4 L144.9 156.0 L146.4 156.3 L148.6 155.7 L148.4 158.4 L150.1 158.4 L151.7 158.4 L153.1 158.5 L153.8 160.7 L155.3 160.5 L157.0 161.2 L158.2 160.5 L159.5 160.1 L159.8 158.5 L161.0 157.9 L161.6 156.8 L163.1 156.4 L163.9 158.6 L165.7 157.2 L166.7 158.8 L168.1 158.8 L169.4 158.9 L170.9 157.7 L172.0 159.7 L173.3 159.4 L174.9 158.9 L176.6 158.7 L177.3 160.5 L179.2 160.0 L179.4 162.8 L181.2 162.4 L182.5 163.0 L184.0 163.2 L185.0 164.3 L186.1 165.4 L187.8 164.7 L189.2 164.8 L190.5 165.7 L192.0 165.2 L193.2 166.2 L194.6 166.4 L196.0 166.5 L197.1 167.6 L198.6 167.9 L200.4 167.5 L200.6 170.3 L202.6 169.7 L203.4 170.8 L204.1 171.8 L203.6 173.7 L204.2 174.8 L205.9 175.3 L206.7 176.3 L208.1 177.3 L206.6 179.3 L208.9 180.0 L208.5 181.6 L209.2 182.8 L210.3 183.3 L211.2 184.2 L212.5 184.7 L213.7 185.2 L213.8 187.0 L214.5 187.9 L214.7 189.2 L216.1 190.4 L215.5 191.7 L215.2 193.7 L213.6 193.7 L212.0 194.1 L210.6 194.7 L210.8 196.6 L209.1 197.0 L209.1 198.7 L208.2 199.7 L207.3 200.8 L205.7 201.5 L205.8 202.9 L206.0 204.3 L204.8 205.2 L204.5 206.4 L204.7 207.9 L203.1 208.6 L203.3 209.7 L200.8 209.9 L199.1 210.6 L200.3 213.2 L198.4 213.7 L197.5 214.8 L197.3 216.4 L197.1 217.9 L195.2 218.6 L195.1 220.2 L194.6 221.6 L194.8 223.3 L191.9 223.5 L192.7 225.6 L192.6 227.1 L191.3 228.1 L191.0 229.6 L188.9 230.2 L189.9 232.3 L189.0 233.5 L188.0 234.9 L186.6 235.4 L185.8 236.8 L184.3 237.3 L182.7 237.6 L181.0 237.7 L179.9 238.7 L179.9 241.3 L177.9 241.2 L176.9 239.8 L175.1 241.7 L173.9 240.9 L172.7 239.8 L171.5 239.5 L170.1 240.3 L169.3 241.6 L169.1 243.2 L168.4 244.4 L168.5 245.8 L168.1 247.1 L168.3 248.6 L166.4 249.5 L166.3 251.2 L166.2 249.1 L164.6 248.4 L163.7 247.8 L162.6 248.9 L161.7 250.1 L162.4 252.1 L160.7 252.9 L160.3 254.6 L158.4 254.4 L158.3 256.9 L156.1 256.3 L154.8 257.9 L156.3 259.1 L158.3 258.8 L159.7 259.2 L161.0 258.1 L162.3 258.7 L163.6 260.1 L164.7 259.4 L167.1 258.7 L168.3 260.6 L168.7 262.0 L170.5 262.2 L170.0 264.3 L171.5 265.2 L173.1 264.5 L174.8 264.1 L172.8 264.5 L172.2 266.4 L171.0 267.7 L169.6 267.8 L168.2 268.6 L166.4 267.7 L165.2 268.6 L163.7 268.7 L162.3 269.0 L160.8 269.1 L160.0 271.2 L158.7 271.3 L157.1 270.3 L155.8 270.8 L154.6 272.0 L153.1 271.5 L151.7 272.5 L150.2 272.6 L148.7 272.5 L147.6 271.3 L146.1 271.2 L145.0 270.1 L144.0 269.4 L141.9 269.4 L141.7 267.6 L141.2 266.0 L139.5 265.5 L138.5 266.6 L137.0 267.2 L137.4 269.6 L135.2 269.3 L133.9 269.9 L132.5 270.3 L131.1 270.9 L130.7 273.3 L129.0 273.4 L127.8 274.2 L126.3 273.6 L124.7 272.8 L123.4 273.2 L122.3 274.7 L121.1 274.0 L119.9 273.3 L118.3 274.1 L117.4 272.1 L115.9 272.5 L114.6 272.1 L113.5 271.3 L112.1 271.2 L110.7 271.3 L109.3 271.5 L108.0 272.1 L106.7 272.4 L105.5 273.0 L103.9 270.9 L102.8 272.4 L102.1 273.9 L100.5 273.8 L99.5 275.0 L97.8 274.7 L97.0 275.7 L96.1 276.7 L94.6 276.7 L93.6 277.5 L92.6 278.4 L91.2 278.4 L90.1 279.5 L88.6 279.3 L87.1 278.7 L85.7 278.8 L84.8 280.4 L84.6 282.2 L81.9 281.5 L81.8 283.3 L81.3 284.8 L80.0 285.6 L79.0 286.6 L77.7 287.1 L76.8 288.2 L75.8 289.1 L73.3 287.6 L72.4 288.7 L71.2 290.2 L71.6 288.9 L72.4 287.7 L71.6 286.4 L70.5 285.2 L71.2 283.9 L71.3 282.7 L72.8 281.4 L71.9 280.2 L71.5 278.9 L72.0 277.7 L70.4 276.4 L72.1 275.2 L72.5 273.9 L72.1 272.6 L71.3 271.4 L71.1 270.1 L70.3 268.9 L70.5 267.6 L70.7 266.4 L71.5 265.1 L72.4 263.9 L70.9 262.6 L71.6 261.4 L72.0 260.1 L72.0 258.9 L70.3 257.6 L72.8 256.4 L71.9 255.1 L71.1 253.9 L70.9 252.6 L72.1 251.4 L72.8 250.1 L71.2 248.9 L71.6 247.6 L72.6 246.7 L72.6 245.1 L73.9 244.5 L75.8 244.4 L75.8 242.8 L77.3 242.6 L77.4 240.6 L79.4 241.0 L80.0 239.7 L80.3 238.1 L81.8 237.9 L83.0 237.4 L83.8 236.3 L84.8 235.6 L85.4 234.3 L86.9 234.2 L88.0 233.2 L89.8 233.8 L90.7 232.3 L92.5 232.4 L93.1 231.1 L93.1 229.4 L94.4 228.5 L94.5 226.9 L96.2 226.6 L97.2 224.8 L98.9 226.0 L100.0 224.9 L101.6 225.8 L102.3 224.8 L103.0 223.2 L102.9 221.8 L101.4 220.5 L101.8 218.6 L103.0 218.3 L104.5 218.6 L105.4 217.2 L107.2 217.0 L108.0 218.3 L108.4 220.1 L109.8 220.4 L111.8 220.4 L111.7 218.7 L111.8 217.1 L112.5 216.0 L114.1 215.6 L114.9 214.5 L115.1 212.9 L115.7 211.6 L117.4 211.1 L118.3 210.3 L116.8 210.2 L115.3 210.1 L113.8 209.5 L112.4 209.8 L110.7 209.8 L111.2 208.4 L113.5 208.5 L112.8 206.0 L113.9 205.1 L114.7 203.9 L117.2 204.2 L117.5 202.5 L119.2 202.6 L119.7 201.1 L120.2 199.7 L121.4 199.1 L122.9 198.9 L123.1 197.0 L125.1 197.4 L125.6 195.9 L126.0 194.2 L127.5 194.2 L128.9 194.0 L129.3 192.4 L131.5 193.4 L132.6 192.7 L133.0 191.1 L134.5 190.1 L134.4 188.6 L134.6 187.2 L134.1 185.5 L135.9 184.5 L136.4 183.0 L135.0 181.8 L134.7 180.5 L133.7 179.2 L135.1 177.7 L134.9 176.1 L133.6 175.3 L132.5 174.2 L132.4 172.5 L131.7 171.3 L130.1 170.5 L130.0 169.2 L130.5 167.6Z" fill="#b4b5b4" stroke="#3e3e3e" stroke-width="0.7" stroke-linejoin="round"/><path d="M130.1 166.8 L132.1 168.5 L133.3 169.8M132.3 162.1 L133.4 162.9 L133.9 163.1M133.5 161.3 L134.5 162.3 L134.7 163.1M135.1 160.9 L137.2 161.5 L139.1 161.4M137.2 157.2 L137.7 158.3 L138.0 159.8M138.9 157.2 L139.0 159.8 L139.1 161.3M140.0 155.6 L140.1 156.9 L139.9 157.8M141.7 155.7 L141.0 158.0 L140.6 159.5M143.5 155.9 L144.2 157.0 L144.1 158.1M144.3 154.4 L143.9 155.6 L143.5 156.3M144.9 156.0 L144.2 156.7 L143.9 157.6M146.4 156.3 L145.9 158.1 L146.1 159.9M148.6 155.7 L147.3 158.0 L146.8 159.6M155.3 160.5 L155.5 162.2 L155.7 163.3M157.0 161.2 L158.0 161.3 L159.3 161.9M158.2 160.5 L158.7 161.4 L159.1 162.7M159.5 160.1 L160.5 160.8 L161.3 161.9M159.8 158.5 L160.8 159.2 L161.5 159.3M161.6 156.8 L162.2 158.9 L162.5 160.6M163.9 158.6 L164.0 159.4 L164.4 160.4M166.7 158.8 L168.0 160.5 L168.7 162.5M168.1 158.8 L168.0 159.4 L168.3 160.6M169.4 158.9 L169.8 160.3 L170.2 162.1M170.9 157.7 L170.8 159.0 L170.1 160.1M173.3 159.4 L172.3 161.1 L172.0 161.8M179.2 160.0 L178.3 161.5 L177.2 162.7M179.4 162.8 L179.4 164.4 L179.8 166.2M184.0 163.2 L183.9 164.5 L183.8 165.3M185.0 164.3 L186.4 166.2 L186.8 168.2M186.1 165.4 L185.8 166.5 L186.0 167.7M187.8 164.7 L186.2 166.6 L185.0 168.0M190.5 165.7 L189.2 167.2 L188.4 168.5M192.0 165.2 L190.5 166.7 L189.9 168.3M193.2 166.2 L192.9 167.3 L192.0 168.0M194.6 166.4 L193.9 168.6 L193.3 169.8M196.0 166.5 L196.2 167.8 L196.2 169.0M197.1 167.6 L196.4 169.7 L195.2 171.0M203.6 173.7 L201.7 174.0 L199.6 175.0M204.2 174.8 L203.8 175.9 L203.2 176.7M205.9 175.3 L204.4 174.9 L203.5 174.2M206.7 176.3 L206.2 177.0 L205.2 177.4M206.6 179.3 L205.7 179.9 L204.9 180.4M208.9 180.0 L207.6 180.5 L206.6 181.1M208.5 181.6 L207.6 183.8 L206.4 185.1M209.2 182.8 L209.1 183.4 L208.6 184.5M211.2 184.2 L210.1 185.3 L209.8 186.1M212.5 184.7 L211.2 186.4 L209.7 187.9M214.5 187.9 L213.2 187.5 L212.6 187.8M214.7 189.2 L212.2 188.8 L210.4 188.8M216.1 190.4 L214.2 190.2 L213.2 190.1M215.5 191.7 L215.5 190.6 L215.3 189.2M212.0 194.1 L211.3 193.5 L210.1 193.5M210.8 196.6 L209.5 194.5 L208.8 193.2M209.1 197.0 L208.4 195.9 L207.8 195.4M209.1 198.7 L207.9 196.7 L206.7 195.4M207.3 200.8 L205.3 200.2 L203.4 199.0M205.8 202.9 L203.9 201.4 L202.8 199.8M204.7 207.9 L204.2 205.8 L203.5 203.8M203.3 209.7 L202.5 209.2 L201.7 208.2M200.8 209.9 L200.1 208.8 L198.8 208.2M199.1 210.6 L198.1 209.6 L197.7 209.4M200.3 213.2 L199.5 211.8 L198.4 210.4M197.3 216.4 L196.0 216.1 L194.9 215.8M194.8 223.3 L193.6 222.5 L192.7 221.6M191.9 223.5 L189.6 222.5 L188.0 221.6M192.7 225.6 L191.4 224.7 L191.1 224.1M191.3 228.1 L189.9 226.8 L188.3 225.1M191.0 229.6 L189.0 228.4 L187.6 227.9M188.9 230.2 L187.1 229.5 L185.4 229.0M186.6 235.4 L185.4 234.4 L184.1 234.2M185.8 236.8 L185.4 235.1 L184.5 233.9M184.3 237.3 L183.1 235.8 L182.8 234.0M182.7 237.6 L181.0 236.8 L179.6 235.5M179.9 238.7 L180.2 236.7 L179.8 234.8M179.9 241.3 L178.9 239.5 L178.1 238.5M177.9 241.2 L178.2 238.9 L178.2 237.2M175.1 241.7 L175.1 239.0 L175.3 237.4M173.9 240.9 L174.0 239.5 L173.5 239.0M171.5 239.5 L170.3 239.1 L169.4 238.0M169.1 243.2 L167.6 243.4 L166.2 244.2M168.5 245.8 L168.3 244.7 L167.5 243.9M168.1 247.1 L167.3 246.6 L166.3 246.0M166.4 249.5 L167.5 248.0 L168.5 246.3M166.3 251.2 L167.2 250.0 L167.2 249.4M166.2 249.1 L166.7 248.3 L166.6 247.2M163.7 247.8 L161.3 247.1 L159.9 246.4M162.6 248.9 L161.4 248.3 L160.2 248.1M161.7 250.1 L160.2 250.0 L159.4 249.9M162.4 252.1 L162.3 250.1 L162.6 248.0M160.7 252.9 L159.4 251.4 L158.1 250.0M160.3 254.6 L159.1 253.5 L157.8 252.6M158.4 254.4 L156.8 252.8 L155.7 251.1M156.1 256.3 L154.7 257.4 L154.0 258.8M158.3 258.8 L157.8 260.7 L157.4 261.7M159.7 259.2 L158.9 260.3 L158.2 260.8M162.3 258.7 L161.0 260.7 L159.9 262.4M168.3 260.6 L167.0 261.5 L166.7 261.9M168.7 262.0 L168.0 262.8 L166.9 263.4M170.5 262.2 L170.4 264.3 L169.9 265.3M170.0 264.3 L170.9 266.1 L172.0 268.0M172.2 266.4 L171.7 265.9 L171.2 264.8M168.2 268.6 L168.6 266.8 L168.8 265.7M166.4 267.7 L165.5 266.1 L164.7 265.1M158.7 271.3 L158.7 269.9 L158.1 268.8M157.1 270.3 L157.5 269.3 L157.5 267.9M155.8 270.8 L155.4 268.6 L155.2 267.3M153.1 271.5 L153.1 269.9 L153.3 268.2M150.2 272.6 L150.1 271.6 L150.3 270.8M147.6 271.3 L147.7 269.5 L147.8 268.7M146.1 271.2 L146.4 269.1 L146.0 266.9M145.0 270.1 L145.9 268.2 L146.7 267.3M144.0 269.4 L145.2 268.8 L146.6 268.7M141.9 269.4 L142.9 268.4 L143.1 267.9M141.7 267.6 L141.3 266.2 L141.3 264.6M141.2 266.0 L141.3 264.5 L141.9 263.8M139.5 265.5 L137.7 265.1 L136.6 264.4M137.0 267.2 L136.1 265.7 L135.4 263.8M135.2 269.3 L134.9 267.5 L134.7 265.8M133.9 269.9 L133.2 268.2 L132.9 266.3M132.5 270.3 L131.2 268.9 L130.0 267.3M131.1 270.9 L130.1 269.8 L129.5 269.2M130.7 273.3 L131.0 271.0 L131.4 269.1M129.0 273.4 L129.8 270.8 L129.7 269.2M127.8 274.2 L128.0 272.9 L128.8 272.2M124.7 272.8 L123.6 272.2 L122.7 271.2M123.4 273.2 L122.4 271.2 L121.1 269.8M119.9 273.3 L119.0 270.9 L118.6 269.2M118.3 274.1 L118.5 272.1 L119.0 270.4M117.4 272.1 L118.6 270.2 L119.4 268.1M114.6 272.1 L114.8 270.8 L114.4 270.0M112.1 271.2 L111.6 269.3 L111.8 267.5M109.3 271.5 L109.6 269.7 L109.8 267.5M108.0 272.1 L108.8 271.6 L109.5 270.8M106.7 272.4 L106.7 271.2 L106.4 270.2M103.9 270.9 L104.0 269.9 L103.5 268.4M100.5 273.8 L99.0 273.3 L98.4 272.6M99.5 275.0 L98.6 273.9 L98.5 273.1M97.8 274.7 L97.7 272.0 L97.6 270.4M97.0 275.7 L95.3 275.1 L94.2 273.9M96.1 276.7 L94.9 275.3 L93.9 274.7M94.6 276.7 L93.5 275.9 L92.1 274.8M93.6 277.5 L93.3 275.1 L93.1 273.7M92.6 278.4 L91.1 277.3 L90.6 276.5M90.1 279.5 L89.9 278.1 L89.3 277.1M85.7 278.8 L83.8 277.5 L82.7 276.8M84.8 280.4 L83.6 279.6 L82.9 279.1M84.6 282.2 L84.3 280.9 L84.0 279.6M81.8 283.3 L80.9 283.2 L79.6 282.8M80.0 285.6 L78.7 284.4 L78.1 283.1M77.7 287.1 L77.3 285.7 L76.2 284.4M76.8 288.2 L77.2 287.1 L77.6 286.0M75.8 244.4 L77.2 244.7 L78.8 245.5M77.4 240.6 L78.0 241.5 L78.9 241.7M79.4 241.0 L80.9 241.3 L82.3 242.1M80.0 239.7 L80.9 241.3 L82.2 242.5M80.3 238.1 L81.1 239.5 L81.4 240.9M83.0 237.4 L84.7 237.8 L86.0 238.2M83.8 236.3 L84.1 238.3 L85.0 240.4M84.8 235.6 L86.5 236.6 L88.3 237.1M88.0 233.2 L88.3 235.2 L89.2 236.6M89.8 233.8 L91.0 234.4 L91.3 234.8M92.5 232.4 L93.9 234.2 L95.1 235.5M94.4 228.5 L95.5 229.2 L96.6 230.4M97.2 224.8 L97.7 225.9 L97.9 226.8M98.9 226.0 L99.3 227.1 L100.3 228.6M100.0 224.9 L101.5 226.1 L102.2 227.4M101.6 225.8 L103.4 225.1 L105.0 225.0M101.8 218.6 L101.8 220.4 L102.2 222.4M103.0 218.3 L103.0 219.8 L102.2 221.4M105.4 217.2 L104.3 218.4 L103.8 218.7M109.8 220.4 L111.8 220.6 L114.0 220.9M111.8 220.4 L112.8 220.6 L113.6 220.9M111.7 218.7 L112.9 220.3 L113.8 221.7M115.1 212.9 L116.6 213.8 L117.5 214.1M116.8 210.2 L116.7 208.7 L116.8 207.4M113.8 209.5 L113.9 207.3 L113.6 205.5M112.4 209.8 L113.5 210.7 L114.1 211.9M110.7 209.8 L113.2 210.0 L115.1 209.8M112.8 206.0 L112.4 207.5 L112.3 209.0M113.9 205.1 L114.0 206.3 L114.8 207.9M114.7 203.9 L114.6 205.5 L113.9 206.8M117.2 204.2 L119.4 204.2 L121.6 204.9M117.5 202.5 L117.9 203.5 L118.6 204.4M119.7 201.1 L120.1 202.7 L120.1 203.9M120.2 199.7 L121.1 200.5 L121.5 201.5M122.9 198.9 L123.7 199.5 L124.3 200.3M123.1 197.0 L124.8 198.5 L126.6 199.5M125.1 197.4 L126.7 197.5 L128.8 197.6M125.6 195.9 L126.3 196.9 L127.5 198.0M128.9 194.0 L129.9 195.3 L131.1 196.4M133.0 191.1 L134.6 191.0 L135.6 190.7M134.5 190.1 L137.0 190.1 L138.6 190.3M134.4 188.6 L135.9 188.9 L137.2 188.9M134.6 187.2 L136.8 187.7 L138.1 188.4M135.9 184.5 L136.8 184.1 L137.6 183.4M135.0 181.8 L137.2 182.0 L139.4 181.8M134.7 180.5 L136.1 180.0 L137.0 179.6M135.1 177.7 L136.0 177.1 L137.0 176.7M134.9 176.1 L136.2 176.1 L136.9 176.0M132.5 174.2 L133.4 173.0 L133.8 171.4M132.4 172.5 L133.9 172.1 L135.1 172.3M131.7 171.3 L132.5 170.4 L133.8 169.7M130.1 170.5 L131.0 169.9 L132.3 169.0M130.0 169.2 L131.4 169.7 L132.8 169.8M130.5 167.6 L132.2 167.1 L133.8 166.1" fill="none" stroke="#3e3e3e" stroke-width="0.55" opacity="0.85"/><path d="M161.6 259.1 L165.7 259.1 L169.8 263.2 L174.2 265.6 L171.4 266.6 L166.5 264.0Z" fill="#c3e8f6" opacity="1"/><path d="M150.3 295.3 L152.2 295.0 L153.5 293.7 L154.9 292.4 L156.7 293.1 L158.4 292.6 L158.8 294.0 L160.1 295.1 L160.2 296.8 L159.2 298.1 L158.8 299.7 L157.5 300.8 L159.1 300.2 L160.4 300.6 L161.7 301.7 L162.8 300.7 L164.1 300.0 L165.5 299.5 L166.5 298.2 L168.3 297.8 L169.7 299.4 L171.4 299.2 L173.0 299.7 L174.7 299.9 L176.4 300.3 L177.9 299.5 L179.7 299.9 L181.3 299.1 L181.7 300.4 L182.2 301.7 L183.4 302.7 L184.0 304.0 L184.0 305.5 L183.7 307.0 L184.2 308.4 L184.6 309.8 L183.5 311.3 L183.0 313.3 L181.8 314.1 L180.4 314.3 L178.8 314.0 L177.8 315.5 L176.4 315.8 L175.3 316.7 L174.0 317.3 L172.6 317.4 L171.1 317.4 L169.7 317.8 L168.4 318.7 L167.0 319.0 L165.6 319.6 L164.0 319.7 L163.1 318.6 L161.7 318.3 L160.2 318.2 L158.9 317.3 L158.7 315.8 L157.8 314.9 L157.2 313.7 L155.8 313.2 L154.7 312.2 L153.9 310.8 L152.3 310.5 L151.2 310.0 L151.3 308.3 L153.3 308.1 L153.2 306.7 L152.2 305.5 L150.6 304.9 L150.3 303.4 L151.5 302.7 L152.9 302.3 L153.6 300.6 L152.8 299.0 L151.0 298.3 L151.4 296.5Z" fill="#b4b5b4" stroke="#3e3e3e" stroke-width="0.7" stroke-linejoin="round"/><path d="M156.7 293.1 L156.6 293.7 L156.1 294.4M158.8 294.0 L158.4 294.4 L157.4 294.6M160.2 296.8 L159.3 297.0 L158.9 296.7M161.7 301.7 L161.8 302.5 L161.7 303.2M162.8 300.7 L163.0 301.3 L163.5 301.6M171.4 299.2 L171.0 300.0 L171.0 300.7M174.7 299.9 L175.1 300.9 L175.1 301.3M177.9 299.5 L177.6 300.2 L177.6 300.4M179.7 299.9 L179.8 300.2 L179.2 300.6M181.3 299.1 L180.4 299.1 L180.4 299.3M181.7 300.4 L181.7 300.9 L181.4 301.1M182.2 301.7 L181.8 301.9 L181.0 302.1M184.6 309.8 L183.9 309.2 L183.7 309.2M176.4 315.8 L176.6 314.8 L176.1 314.7M167.0 319.0 L167.2 318.3 L167.4 317.7M165.6 319.6 L165.9 319.2 L166.2 319.0M164.0 319.7 L164.3 319.3 L164.3 319.1M163.1 318.6 L162.9 317.6 L162.9 317.0M161.7 318.3 L162.3 317.6 L163.0 317.5M158.9 317.3 L159.7 316.8 L159.8 316.3M157.2 313.7 L158.2 313.3 L158.5 313.3M155.8 313.2 L156.1 312.4 L156.3 311.9M154.7 312.2 L154.4 311.8 L154.8 311.0M152.3 310.5 L152.7 310.8 L153.4 311.1M151.3 308.3 L151.6 308.9 L152.2 309.2M152.2 305.5 L152.9 305.5 L153.2 305.0M150.6 304.9 L151.1 304.9 L151.6 305.2M150.3 303.4 L150.8 303.8 L151.0 304.7M152.8 299.0 L153.1 298.7 L154.0 298.7M151.0 298.3 L151.1 298.8 L151.8 299.1M151.4 296.5 L152.5 296.3 L152.9 296.7" fill="none" stroke="#3e3e3e" stroke-width="0.55" opacity="0.85"/><path d="M205.8 269.8 L207.5 269.5 L209.1 268.9 L208.7 271.2 L207.5 271.8 L206.2 271.8Z" fill="#b4b5b4" stroke="#3e3e3e" stroke-width="0.7" stroke-linejoin="round"/><path d="M201.7 337.6 L203.4 337.6 L204.8 336.8 L205.2 338.2 L204.6 339.5 L204.9 340.9 L204.5 342.7 L203.5 344.1 L202.6 342.6 L202.1 340.9 L201.9 339.3Z" fill="#b4b5b4" stroke="#3e3e3e" stroke-width="0.7" stroke-linejoin="round"/><path d="M342.9 71.8 L344.3 71.1 L345.7 71.1 L347.1 71.8 L348.5 70.8 L349.9 72.1 L351.3 72.1 L353.0 71.7 L352.2 73.0 L352.3 74.5 L351.8 75.9 L351.8 77.1 L350.4 76.9 L349.5 78.3 L348.0 78.0 L346.8 78.5 L345.5 78.6 L344.8 79.6 L344.7 81.3 L346.5 81.5 L347.5 82.5 L347.8 84.0 L348.9 85.0 L350.1 85.7 L351.8 85.1 L352.8 86.4 L354.6 86.2 L354.2 88.0 L356.0 88.8 L356.2 90.3 L357.6 91.3 L357.5 93.2 L356.1 93.3 L355.2 91.9 L354.0 91.6 L352.8 91.1 L351.9 90.0 L350.3 90.0 L349.5 88.6 L347.7 88.9 L347.2 87.2 L345.5 87.4 L344.6 86.1 L343.2 86.2 L341.9 85.8 L340.6 85.3 L339.1 85.8 L338.0 85.0 L336.7 84.8 L335.3 84.7 L334.2 86.0 L332.8 85.5 L331.5 85.6 L329.9 85.9 L328.5 86.4 L328.2 88.6 L326.5 88.8 L326.8 90.4 L325.2 91.5 L324.5 92.9 L324.8 94.6 L325.6 95.7 L327.2 96.1 L327.9 97.2 L328.3 98.8 L327.4 100.1 L326.1 100.8 L324.0 100.4 L323.4 101.9 L322.1 103.4 L322.3 105.3 L323.1 106.4 L324.0 107.4 L325.3 107.9 L326.5 108.3 L328.0 108.6 L329.4 108.7 L330.9 108.2 L332.5 109.1 L332.8 110.5 L333.4 111.7 L333.3 113.3 L334.6 114.2 L334.6 115.6 L335.6 116.6 L335.8 117.9 L336.2 119.2 L337.9 119.8 L338.7 121.1 L338.9 122.7 L339.7 123.9 L340.5 125.1 L341.9 126.0 L342.6 127.3 L343.1 128.7 L343.5 130.2 L345.2 130.9 L346.1 132.1 L346.1 133.9 L347.4 134.3 L349.0 134.3 L349.5 136.4 L351.1 136.3 L353.1 136.1 L354.3 134.7 L355.5 135.1 L356.8 135.3 L358.2 135.2 L359.0 136.1 L358.5 137.5 L357.9 138.9 L357.3 140.3 L355.9 141.2 L354.9 142.4 L355.8 143.8 L354.9 145.0 L355.0 146.4 L355.1 147.7 L356.0 148.7 L356.9 149.7 L357.7 150.8 L359.5 151.1 L359.3 152.6 L358.6 153.9 L357.8 155.3 L356.6 156.2 L355.2 156.8 L354.2 157.9 L352.7 158.3 L354.3 159.6 L354.5 161.9 L355.7 161.3 L356.5 159.8 L357.8 159.3 L359.2 159.3 L360.8 159.2 L361.5 160.8 L363.3 160.3 L364.1 161.6 L363.1 162.4 L362.5 163.6 L361.3 164.4 L360.8 165.4 L359.4 165.2 L358.5 167.1 L357.0 166.7 L355.8 167.7 L354.3 167.2 L353.2 168.4 L351.8 169.0 L350.5 168.8 L351.8 169.9 L352.2 171.5 L352.8 172.9 L354.0 173.8 L355.1 174.9 L356.4 175.4 L358.1 175.4 L359.4 176.2 L359.7 177.7 L361.2 178.3 L361.5 179.8 L361.8 181.2 L363.2 181.9 L364.2 182.9 L365.7 182.4 L366.9 183.1 L367.9 184.6 L369.6 183.4 L370.8 184.2 L371.9 185.3 L373.5 185.5 L374.5 186.6 L376.1 186.7 L377.2 187.6 L378.6 187.1 L380.1 187.7 L381.5 187.4 L382.7 186.0 L384.3 187.0 L385.7 186.9 L387.0 186.2 L386.3 184.9 L386.2 183.6 L387.9 182.4 L386.3 181.1 L386.2 179.9 L386.3 178.6 L387.8 177.3 L388.0 176.1 L387.5 174.8 L387.8 173.6 L387.6 172.3 L386.3 171.1 L386.8 169.8 L387.3 168.5 L387.4 167.3 L387.5 166.0 L387.4 164.8 L386.4 163.5 L386.9 162.2 L387.9 161.0 L387.3 159.7 L386.5 158.5 L386.9 157.2 L387.9 156.0 L386.6 154.7 L386.3 153.4 L387.6 152.2 L387.3 150.9 L386.8 149.7 L387.0 148.4 L386.6 147.1 L387.4 145.9 L386.7 144.6 L387.1 143.4 L387.8 142.1 L387.3 140.9 L386.8 139.6 L386.4 138.3 L387.1 137.1 L386.2 135.8 L387.5 134.6 L387.0 133.3 L387.0 132.0 L386.7 130.8 L387.4 129.5 L387.0 128.3 L387.0 127.0 L386.5 125.7 L386.3 124.5 L386.3 123.2 L386.6 122.0 L387.5 120.7 L387.3 119.5 L386.5 118.2 L386.2 116.9 L386.6 115.7 L387.4 114.4 L386.6 113.2 L387.0 111.9 L386.4 110.6 L387.6 109.4 L387.2 108.1 L386.9 106.9 L387.9 105.6 L387.1 104.4 L386.7 103.1 L387.4 101.8 L387.9 100.6 L387.3 99.3 L387.8 98.1 L387.1 96.8 L386.7 95.5 L387.3 94.3 L386.3 93.0 L387.9 91.8 L387.1 90.5 L386.2 89.3 L386.7 88.0 L387.3 86.7 L387.7 85.5 L387.8 84.2 L386.8 83.0 L387.8 81.7 L387.1 80.4 L387.2 79.2 L387.7 77.9 L387.4 76.7 L387.2 75.4 L386.2 74.2 L386.8 72.9 L387.1 71.5 L385.8 71.8 L384.5 72.5 L383.3 71.0 L382.0 71.9 L380.7 71.2 L379.5 71.9 L378.2 71.9 L377.0 71.5 L375.7 71.6 L374.4 70.9 L373.2 71.5 L371.9 71.9 L370.6 71.5 L369.4 71.2 L368.1 71.2 L366.9 72.5 L365.6 71.6 L364.3 70.9 L363.1 71.7 L361.8 72.2 L360.6 72.3 L359.3 71.6 L358.0 71.1 L356.8 71.2 L355.5 71.8 L354.2 72.4 L353.0 72.0 L351.7 71.5 L350.5 71.6 L349.2 71.8 L347.9 72.2 L346.7 71.7 L345.4 72.2 L344.1 71.4Z" fill="#b4b5b4" stroke="#3e3e3e" stroke-width="0.7" stroke-linejoin="round"/><path d="M351.8 75.9 L352.9 76.5 L353.2 76.7M349.5 78.3 L349.7 78.7 L349.4 79.1M346.8 78.5 L347.4 78.4 L348.1 78.8M348.9 85.0 L349.2 84.0 L349.0 83.6M350.1 85.7 L350.5 84.5 L350.2 84.2M354.6 86.2 L355.3 85.3 L355.5 85.2M356.1 93.3 L355.4 93.4 L355.3 94.1M352.8 91.1 L352.1 91.3 L352.0 91.8M350.3 90.0 L350.0 90.5 L350.0 91.3M347.7 88.9 L347.1 90.2 L346.8 90.7M340.6 85.3 L340.0 86.2 L339.8 86.8M328.2 88.6 L328.7 89.2 L328.5 89.6M326.8 90.4 L327.7 91.1 L328.0 91.0M324.8 94.6 L325.6 94.3 L326.1 93.4M327.2 96.1 L327.5 96.6 L328.1 96.3M322.3 105.3 L322.8 104.8 L323.1 104.0M323.1 106.4 L323.3 105.6 L323.8 105.7M326.5 108.3 L326.0 107.3 L326.1 107.2M333.3 113.3 L334.5 112.9 L334.8 113.3M337.9 119.8 L338.7 119.7 L338.8 120.0M342.6 127.3 L342.6 127.2 L343.1 126.3M343.5 130.2 L344.3 129.8 L344.3 129.1M346.1 133.9 L346.6 133.3 L346.3 132.2M357.9 138.9 L358.5 139.5 L359.2 140.4M354.9 142.4 L355.4 142.2 L355.9 142.5M355.8 143.8 L356.7 143.2 L357.1 143.4M355.1 147.7 L356.0 147.0 L356.1 146.8M356.6 156.2 L357.1 157.1 L356.7 157.5M354.2 157.9 L355.0 157.7 L355.1 157.4M354.5 161.9 L353.6 161.3 L353.6 161.4M359.4 165.2 L359.9 165.8 L359.9 166.5M354.3 167.2 L354.0 168.1 L354.3 168.6M350.5 168.8 L351.0 168.0 L352.0 167.7M351.8 169.9 L352.2 169.6 L352.6 169.5M352.2 171.5 L352.9 170.5 L353.3 170.3M355.1 174.9 L354.7 174.3 L355.1 173.5M359.7 177.7 L360.8 177.0 L361.2 176.9M361.2 178.3 L361.3 178.0 L361.8 177.1M367.9 184.6 L367.8 184.0 L367.5 183.0M369.6 183.4 L370.1 183.0 L370.2 182.3M374.5 186.6 L374.8 185.4 L374.6 185.0M376.1 186.7 L376.1 186.2 L376.7 185.4M378.6 187.1 L378.0 186.7 L377.9 186.4M380.1 187.7 L379.8 187.4 L378.9 186.4M382.7 186.0 L383.2 185.2 L383.1 184.3" fill="none" stroke="#3e3e3e" stroke-width="0.55" opacity="0.85"/><path d="M360.9 151.0 L369.1 146.1 L375.6 144.4 L387.1 145.6 L387.1 148.0 L375.6 146.9 L370.7 149.3 L365.8 153.4 L362.5 155.1Z" fill="#c5e9f6" opacity="1"/><path d="M365.8 168.2 L372.3 169.8 L380.5 172.2 L387.1 173.9 L387.1 176.7 L377.2 174.7 L370.7 173.1 L365.8 170.6Z" fill="#c5e9f6" opacity="1"/><path d="M311.0 109.3 L312.2 108.6 L313.4 108.1 L313.8 106.5 L315.2 105.8 L315.9 107.1 L317.4 107.5 L318.4 108.4 L318.6 109.8 L319.9 110.7 L319.7 112.3 L320.8 113.4 L319.4 114.1 L317.9 113.3 L316.5 113.9 L315.0 114.4 L313.9 113.5 L312.7 113.2 L311.5 112.9 L310.2 112.9 L311.1 111.2Z" fill="#b4b5b4" stroke="#3e3e3e" stroke-width="0.7" stroke-linejoin="round"/><path d="M301.9 118.9 L303.0 117.9 L304.5 117.5 L305.5 116.3 L306.9 115.6 L308.3 115.6 L309.7 115.3 L311.1 114.9 L312.7 115.0 L313.6 116.5 L315.2 117.5 L314.9 118.9 L314.5 120.4 L313.5 121.6 L312.6 122.7 L310.9 122.7 L310.2 124.0 L310.0 125.4 L311.0 126.6 L309.5 126.2 L308.3 127.0 L306.9 127.2 L305.7 126.7 L304.4 126.7 L303.1 126.3 L302.0 125.5 L300.5 125.5 L299.0 125.1 L298.0 123.9 L297.2 122.7 L296.2 121.4 L297.7 120.9 L299.3 120.8 L300.4 119.4Z" fill="#b4b5b4" stroke="#3e3e3e" stroke-width="0.7" stroke-linejoin="round"/><path d="M284.0 159.2 L284.9 158.1 L286.6 158.1 L287.3 156.5 L288.7 156.9 L290.2 156.8 L291.6 157.1 L292.6 157.7 L294.3 158.6 L294.2 160.2 L294.8 161.7 L294.7 163.3 L293.0 164.7 L293.9 166.4 L294.9 167.5 L296.3 168.2 L294.7 169.0 L293.8 170.7 L292.3 171.0 L291.0 170.2 L289.8 169.8 L288.7 170.8 L288.8 172.2 L289.1 173.7 L288.0 174.6 L287.3 175.9 L286.0 176.3 L285.4 177.6 L284.0 178.0 L282.5 177.0 L280.7 177.2 L281.5 175.9 L281.8 174.5 L281.6 173.1 L282.8 172.5 L283.6 171.3 L284.9 170.6 L285.6 169.3 L284.4 167.6 L286.3 166.4 L285.5 164.9 L284.5 163.7 L284.1 162.2 L284.1 160.7Z" fill="#b4b5b4" stroke="#3e3e3e" stroke-width="0.9" stroke-linejoin="round"/><path d="M322.4 165.7 L323.5 164.6 L325.1 163.8 L325.8 165.1 L327.3 165.4 L328.3 166.5 L328.5 167.8 L328.3 169.2 L327.9 170.5 L328.9 171.8 L328.7 173.0 L328.1 174.4 L329.1 175.8 L329.2 177.2 L328.9 178.6 L327.8 179.8 L328.1 181.3 L327.9 182.7 L328.1 184.0 L328.9 185.2 L329.4 186.5 L330.0 187.7 L331.1 188.8 L330.7 190.6 L331.5 191.8 L332.1 193.2 L333.0 194.4 L333.7 195.5 L334.5 196.4 L335.1 197.7 L336.8 197.9 L337.2 199.2 L338.5 199.8 L339.2 201.3 L340.3 202.2 L342.0 202.2 L343.0 203.1 L344.3 203.5 L345.6 204.1 L346.7 205.2 L348.2 205.2 L349.4 205.9 L350.8 205.7 L352.0 206.1 L353.4 205.8 L354.6 206.7 L356.0 206.6 L355.0 208.2 L355.1 209.8 L353.8 210.3 L352.6 211.3 L350.8 210.9 L350.2 212.9 L348.8 213.6 L347.4 214.1 L345.8 213.9 L344.5 215.1 L343.2 214.9 L342.2 213.9 L340.9 213.5 L339.7 213.3 L339.8 212.0 L339.1 210.8 L338.7 209.6 L338.1 208.4 L337.8 207.1 L337.9 205.8 L337.0 205.0 L336.3 203.9 L335.2 203.2 L334.2 202.5 L333.1 201.8 L332.3 200.8 L331.3 200.0 L331.0 198.6 L330.0 197.8 L329.2 196.8 L328.1 196.0 L327.7 194.8 L327.5 193.5 L327.4 192.2 L326.3 191.3 L325.6 190.2 L325.6 188.9 L324.7 187.8 L324.4 186.4 L323.7 185.1 L324.3 183.6 L323.6 182.2 L323.6 180.8 L323.9 179.3 L323.3 178.0 L322.5 176.7 L323.0 175.3 L322.2 173.9 L323.4 172.5 L322.8 171.2 L323.2 169.8 L322.3 168.5 L323.0 167.0Z" fill="#b4b5b4" stroke="#3e3e3e" stroke-width="0.7" stroke-linejoin="round"/><path d="M244.2 203.1 L245.5 202.3 L247.1 202.4 L248.6 202.2 L249.7 200.8 L251.2 200.4 L252.5 199.5 L254.3 199.4 L254.3 197.9 L255.9 197.4 L256.5 196.3 L256.9 194.8 L258.4 194.9 L259.7 194.5 L261.2 194.3 L262.7 195.0 L263.8 193.2 L265.7 193.5 L265.4 195.4 L266.8 196.5 L266.5 197.8 L265.6 198.7 L264.9 199.8 L263.9 201.0 L265.5 200.6 L266.9 201.1 L268.1 202.0 L267.4 203.1 L266.1 203.7 L265.6 204.9 L265.4 206.4 L264.2 207.5 L262.5 207.9 L263.3 209.0 L265.2 208.1 L265.7 209.7 L266.8 210.5 L268.1 210.5 L269.3 211.7 L269.5 213.1 L267.9 214.0 L266.7 215.6 L265.5 214.5 L263.7 214.4 L262.7 213.6 L261.3 214.3 L259.9 214.7 L260.4 216.0 L260.4 217.6 L260.9 218.8 L260.0 220.1 L259.6 221.5 L259.3 222.9 L259.9 224.3 L258.2 224.1 L256.8 223.2 L256.4 221.9 L255.6 221.0 L255.1 219.8 L253.9 219.1 L252.7 217.8 L252.2 215.9 L250.8 214.9 L249.4 213.9 L247.9 213.2 L247.7 211.8 L247.4 210.4 L246.9 209.2 L247.0 207.8 L245.5 207.1 L245.2 205.8 L245.3 204.4Z" fill="#b4b5b4" stroke="#3e3e3e" stroke-width="0.8" stroke-linejoin="round"/><path d="M387.1 191.3 L386.0 191.9 L384.7 192.2 L383.2 191.7 L382.1 192.7 L380.8 192.8 L379.9 194.1 L378.5 193.9 L377.1 194.2 L376.2 195.3 L374.8 195.8 L373.9 196.9 L373.4 198.4 L372.5 199.5 L371.0 199.6 L370.4 201.1 L369.4 201.9 L367.8 201.7 L366.6 202.2 L365.7 203.2 L364.3 203.3 L363.5 205.0 L362.4 205.7 L361.1 205.6 L361.1 207.3 L363.0 207.6 L363.7 208.7 L364.4 209.9 L365.5 210.8 L365.8 212.1 L367.0 212.1 L368.3 211.8 L369.5 212.0 L370.8 213.0 L372.0 211.8 L373.3 212.8 L374.5 212.7 L375.8 212.4 L377.0 212.4 L378.3 212.7 L379.5 212.5 L380.8 211.9 L382.1 212.1 L383.3 211.9 L384.6 212.2 L385.8 213.1 L387.0 212.3 L386.4 211.1 L387.0 209.8 L387.5 208.6 L387.0 207.3 L387.4 206.1 L386.4 204.8 L386.4 203.6 L387.3 202.3 L386.4 201.1 L386.8 199.8 L386.9 198.6 L386.6 197.3 L386.4 196.1 L386.3 194.8 L387.7 193.6 L387.3 192.3Z" fill="#b4b5b4" stroke="#3e3e3e" stroke-width="0.7" stroke-linejoin="round"/><circle cx="328.2" cy="128.9" r="0.8" fill="#6a6a6a"/><circle cx="324.9" cy="124.0" r="0.7" fill="#6a6a6a"/><circle cx="297.9" cy="140.3" r="0.8" fill="#6a6a6a"/><circle cx="307.7" cy="146.1" r="0.8" fill="#6a6a6a"/><circle cx="324.9" cy="141.2" r="0.7" fill="#6a6a6a"/><circle cx="337.2" cy="142.0" r="1.0" fill="#6a6a6a"/><circle cx="341.2" cy="143.6" r="0.8" fill="#6a6a6a"/><circle cx="296.7" cy="127.6" r="0.8" fill="#6a6a6a"/><circle cx="270.1" cy="191.1" r="0.8" fill="#6a6a6a"/><circle cx="270.9" cy="200.9" r="0.8" fill="#6a6a6a"/><circle cx="315.9" cy="102.7" r="0.8" fill="#6a6a6a"/><circle cx="347.0" cy="148.5" r="0.5" fill="#6a6a6a"/><circle cx="333.1" cy="119.1" r="0.7" fill="#6a6a6a"/><circle cx="320.0" cy="123.2" r="0.5" fill="#6a6a6a"/><path d="M298.7 254.2 L300.1 254.3 L301.4 254.5 L302.6 253.2 L304.0 253.8 L305.0 253.5 L305.3 255.2 L307.5 255.7 L307.7 257.6 L309.1 257.4 L310.4 256.9 L311.8 257.0 L313.1 256.8 L314.4 256.8 L315.6 258.0 L317.0 257.6 L318.3 257.3 L319.6 256.7 L321.0 256.8 L322.0 255.6 L323.6 256.4 L324.9 256.0 L326.2 255.5 L327.6 256.2 L328.9 256.2 L330.1 255.3 L331.4 255.1 L332.9 254.2 L334.4 254.1 L335.8 256.0 L337.3 254.5 L338.9 254.8 L339.9 256.4 L341.4 256.7 L343.4 256.1 L344.6 257.3 L345.8 258.1 L346.5 259.1 L347.8 259.7 L347.8 261.4 L348.8 262.4 L348.6 264.0 L348.7 265.7 L348.0 267.5 L347.4 268.8 L345.3 268.3 L344.5 269.3 L343.8 270.4 L343.0 271.7 L341.8 272.4 L340.5 272.8 L339.1 272.7 L337.9 273.6 L336.4 273.2 L335.2 273.9 L333.9 274.3 L332.3 273.7 L331.1 274.4 L329.8 274.6 L328.2 274.9 L326.5 274.5 L324.8 274.8 L326.3 274.7 L327.8 274.8 L328.8 276.1 L330.2 276.3 L331.3 277.3 L333.1 277.0 L333.7 279.1 L335.8 278.1 L336.6 279.8 L338.0 280.3 L339.2 281.1 L339.4 282.9 L340.6 283.6 L342.4 283.8 L342.9 285.3 L344.5 285.8 L346.3 284.8 L347.8 285.7 L349.4 286.3 L351.1 286.6 L352.7 286.1 L353.4 284.6 L354.3 283.4 L355.2 282.2 L353.8 281.2 L352.4 281.0 L351.1 282.0 L349.3 282.4 L348.3 281.1 L347.1 280.5 L347.8 279.2 L348.5 278.1 L349.6 277.4 L351.1 277.2 L352.6 276.7 L353.7 275.4 L355.5 275.5 L357.0 274.5 L356.8 272.8 L355.7 271.5 L354.3 270.6 L354.3 269.0 L353.9 267.7 L353.2 266.5 L352.1 265.6 L351.9 264.3 L351.6 263.0 L352.1 261.6 L351.5 260.4 L351.1 259.3 L352.4 258.4 L353.7 258.0 L355.1 258.2 L356.5 258.7 L357.9 258.6 L359.1 258.4 L357.8 257.7 L357.9 255.5 L355.5 255.8 L355.5 254.0 L355.1 252.7 L354.1 251.6 L354.2 250.0 L352.8 249.1 L351.0 249.6 L350.7 247.2 L348.9 247.6 L348.0 246.6 L347.2 245.3 L345.1 245.2 L344.4 243.2 L345.4 242.2 L347.2 243.3 L348.4 242.9 L349.5 241.7 L351.0 241.8 L352.0 242.9 L352.8 244.3 L354.2 244.5 L354.5 246.1 L355.1 247.6 L356.9 248.6 L358.4 248.6 L359.1 246.4 L360.5 246.9 L361.3 245.4 L360.6 244.3 L359.7 243.2 L359.0 242.1 L359.2 240.8 L359.1 239.4 L359.5 238.1 L359.7 236.7 L359.4 235.2 L359.5 233.8 L360.0 232.5 L360.6 231.4 L359.4 230.5 L359.1 228.9 L357.8 228.0 L357.9 226.4 L358.0 225.1 L358.2 223.7 L358.9 222.5 L358.4 221.0 L359.0 219.5 L360.0 218.3 L361.5 217.9 L362.8 217.1 L364.0 216.5 L364.3 215.0 L365.9 214.0 L365.8 211.9 L367.0 212.2 L368.3 212.0 L369.5 211.8 L370.8 212.8 L372.0 211.7 L373.3 211.3 L374.5 211.6 L375.8 213.3 L377.0 212.0 L378.3 211.5 L379.5 213.3 L380.8 212.6 L382.1 213.2 L383.3 211.9 L384.6 212.9 L385.8 211.3 L387.3 212.3 L386.4 213.5 L387.0 214.8 L386.4 216.1 L387.3 217.3 L386.3 218.6 L387.9 219.8 L386.8 221.1 L387.7 222.4 L387.7 223.6 L386.3 224.9 L387.2 226.1 L386.4 227.4 L387.5 228.6 L386.6 229.9 L386.2 231.2 L386.8 232.4 L387.6 233.7 L386.7 234.9 L386.1 236.2 L386.4 237.5 L387.2 238.7 L387.3 240.0 L387.9 241.2 L386.5 242.5 L387.8 243.7 L387.6 245.0 L388.0 246.3 L387.8 247.5 L387.3 248.8 L387.1 250.0 L387.7 251.3 L387.2 252.6 L386.5 253.8 L387.9 255.1 L387.8 256.3 L387.0 257.6 L386.2 258.8 L386.2 260.1 L386.9 261.4 L387.9 262.6 L386.3 263.9 L386.0 265.1 L386.2 266.4 L387.0 267.7 L387.3 268.9 L386.9 270.2 L386.4 271.4 L386.0 272.7 L387.1 273.9 L387.0 275.2 L387.5 276.5 L387.0 277.7 L387.0 279.0 L387.5 280.2 L387.1 281.5 L386.2 282.8 L387.6 284.0 L387.6 285.3 L387.5 286.5 L386.3 287.8 L387.5 289.0 L386.4 290.3 L386.2 291.6 L386.3 292.8 L386.4 294.1 L387.7 295.3 L387.2 296.6 L386.4 297.8 L387.6 299.1 L386.8 300.4 L386.3 301.6 L386.1 302.9 L387.4 304.1 L387.9 305.4 L388.0 306.7 L387.4 307.9 L387.0 309.2 L387.5 310.4 L386.4 311.7 L386.7 312.9 L386.8 314.2 L386.4 315.5 L387.4 316.7 L386.7 318.0 L387.4 319.2 L387.5 320.5 L387.9 321.8 L386.4 323.0 L386.2 324.3 L388.0 325.5 L386.6 326.8 L388.0 328.0 L387.2 329.3 L387.4 330.6 L386.2 331.8 L387.2 333.1 L387.0 334.3 L387.4 335.6 L387.6 336.9 L387.6 338.1 L388.0 339.4 L388.1 340.6 L386.9 341.9 L386.6 343.1 L386.7 344.4 L387.6 345.7 L386.0 346.9 L387.9 348.2 L387.2 349.4 L387.1 350.8 L385.8 351.4 L384.5 349.7 L383.3 350.2 L382.0 351.5 L380.8 351.4 L379.5 350.0 L378.3 351.0 L377.0 351.1 L375.7 351.1 L374.5 351.1 L373.2 350.5 L372.0 351.1 L370.7 350.5 L369.5 351.6 L368.2 350.6 L366.9 350.5 L365.7 351.1 L364.4 349.9 L363.2 349.8 L361.9 350.4 L360.7 350.9 L359.4 351.4 L358.2 350.4 L356.9 351.1 L355.6 351.4 L354.4 350.6 L353.1 351.3 L351.9 350.4 L350.6 350.1 L349.4 351.7 L348.1 350.4 L346.8 351.3 L345.6 351.0 L344.3 350.2 L343.1 349.7 L341.8 351.1 L340.6 350.2 L339.3 351.0 L338.0 349.8 L336.8 351.4 L335.5 350.3 L334.3 351.6 L333.0 350.6 L331.8 350.2 L330.5 349.8 L329.2 350.1 L328.0 350.6 L326.7 350.9 L325.5 350.4 L324.2 350.4 L323.0 350.5 L321.7 350.2 L320.4 350.2 L319.2 349.8 L317.9 350.4 L316.7 349.9 L315.4 350.2 L314.2 350.9 L312.9 350.1 L311.7 351.0 L310.4 350.0 L309.1 349.9 L307.9 349.9 L306.6 349.8 L305.4 350.3 L304.1 350.7 L302.9 351.1 L301.6 350.4 L300.3 349.9 L299.1 351.0 L297.8 351.3 L296.6 350.2 L295.3 349.8 L294.1 351.3 L292.8 351.5 L291.5 351.5 L290.3 350.6 L289.0 350.0 L287.8 351.2 L286.5 350.1 L285.3 351.6 L284.0 351.3 L282.7 350.6 L281.5 350.2 L280.2 350.7 L279.0 350.3 L277.7 351.0 L276.5 351.0 L275.2 350.7 L273.9 351.7 L272.7 351.3 L271.4 351.0 L270.2 350.4 L268.9 351.3 L267.7 351.2 L266.4 349.7 L265.2 350.4 L263.9 350.9 L262.6 350.1 L261.4 350.2 L260.1 350.0 L258.9 350.6 L257.6 350.5 L256.4 351.5 L255.1 350.8 L253.8 350.9 L252.6 351.2 L251.3 351.0 L250.1 349.9 L248.6 350.7 L248.0 349.3 L248.5 347.9 L248.1 346.5 L247.8 345.1 L249.7 343.7 L248.9 342.3 L248.5 340.7 L249.6 339.8 L249.6 338.3 L250.8 337.6 L252.3 337.0 L253.1 336.0 L252.8 334.3 L254.2 333.6 L254.5 332.1 L254.7 330.5 L256.0 329.8 L257.5 329.3 L257.9 328.0 L259.3 327.4 L260.8 327.0 L261.4 325.1 L262.9 324.6 L263.8 323.6 L264.5 322.5 L264.8 321.3 L265.3 320.1 L264.7 318.6 L265.3 317.4 L266.1 316.4 L265.7 314.9 L266.6 313.9 L267.1 312.7 L267.3 311.4 L267.7 310.3 L269.1 309.4 L269.1 308.1 L268.6 306.6 L270.3 305.5 L270.9 304.1 L269.6 302.5 L270.8 301.2 L269.8 299.6 L270.7 298.3 L270.7 296.9 L272.1 296.1 L272.4 294.9 L273.4 293.9 L273.5 292.6 L274.2 291.5 L274.5 290.3 L274.8 289.1 L274.6 287.6 L274.9 286.4 L276.7 285.8 L277.1 284.6 L277.3 283.3 L277.8 282.1 L278.4 280.8 L277.9 279.3 L277.8 277.9 L278.6 276.7 L279.4 275.7 L280.6 274.8 L279.9 272.6 L280.7 271.5 L282.3 271.0 L283.9 270.5 L284.3 269.0 L285.3 267.9 L284.5 265.9 L285.4 264.7 L287.1 263.9 L287.2 262.3 L288.0 261.1 L289.9 261.1 L289.5 258.7 L291.2 258.4 L292.3 257.7 L293.7 257.2 L295.1 256.9 L295.9 255.1 L297.5 254.9Z" fill="#b4b5b4" stroke="#3e3e3e" stroke-width="0.7" stroke-linejoin="round"/><path d="M300.1 254.3 L299.4 254.9 L299.4 256.0M302.6 253.2 L302.3 253.9 L301.7 255.0M305.3 255.2 L305.3 256.3 L305.2 257.4M307.5 255.7 L306.4 256.3 L305.8 257.0M311.8 257.0 L311.1 257.7 L310.8 258.0M315.6 258.0 L316.7 258.6 L317.5 259.7M318.3 257.3 L318.0 258.4 L318.1 259.7M321.0 256.8 L321.4 257.9 L321.5 258.6M322.0 255.6 L321.9 256.8 L322.3 257.1M326.2 255.5 L325.5 256.3 L325.6 257.2M328.9 256.2 L329.8 257.5 L330.1 259.0M332.9 254.2 L332.7 254.9 L332.6 255.9M334.4 254.1 L334.0 255.3 L334.1 255.7M335.8 256.0 L336.0 256.9 L336.1 257.4M338.9 254.8 L338.7 255.2 L338.2 256.0M347.4 268.8 L346.4 267.6 L346.0 266.4M345.3 268.3 L344.9 267.5 L344.3 266.9M343.0 271.7 L343.1 270.7 L342.7 269.4M339.1 272.7 L338.8 271.3 L338.7 269.9M335.2 273.9 L334.4 272.8 L333.9 272.1M332.3 273.7 L332.6 273.0 L332.6 271.8M329.8 274.6 L328.6 273.6 L328.4 272.7M328.2 274.9 L328.7 274.3 L328.6 273.2M326.3 274.7 L326.2 276.1 L326.7 277.8M330.2 276.3 L330.0 277.0 L329.2 277.3M336.6 279.8 L336.0 280.6 L335.1 280.5M339.2 281.1 L338.2 282.0 L336.9 282.8M342.9 285.3 L342.7 286.3 L342.2 287.5M349.4 286.3 L349.3 288.1 L349.5 289.3M351.1 286.6 L351.4 287.4 L352.4 288.7M353.4 284.6 L355.2 284.6 L356.2 285.1M352.4 281.0 L352.1 280.1 L351.4 278.7M351.1 282.0 L351.8 281.5 L352.2 280.8M349.3 282.4 L350.8 281.9 L352.3 281.5M348.3 281.1 L349.6 281.5 L350.1 282.2M347.1 280.5 L347.4 281.4 L348.2 282.6M347.8 279.2 L347.8 280.5 L348.1 281.4M349.6 277.4 L350.5 279.1 L350.8 279.9M352.6 276.7 L353.4 278.0 L354.5 279.2M355.5 275.5 L356.6 275.0 L357.8 274.2M356.8 272.8 L358.2 272.3 L359.9 272.0M355.7 271.5 L356.9 271.4 L357.7 271.0M354.3 269.0 L355.6 268.6 L356.8 269.0M353.9 267.7 L354.1 267.3 L354.9 266.8M353.2 266.5 L354.1 266.6 L355.3 266.8M352.1 265.6 L353.9 265.8 L354.7 265.9M351.9 264.3 L353.5 263.5 L354.4 263.0M351.6 263.0 L352.6 263.8 L353.9 264.1M352.4 258.4 L351.8 258.8 L351.6 259.5M353.7 258.0 L354.1 258.8 L354.4 260.1M355.1 258.2 L355.2 259.2 L355.4 259.6M359.1 258.4 L360.1 257.6 L361.0 257.6M357.9 255.5 L358.4 254.6 L358.8 254.0M355.1 252.7 L355.6 251.8 L355.8 251.0M354.1 251.6 L354.8 251.4 L355.3 250.6M354.2 250.0 L354.4 249.1 L354.7 248.6M352.8 249.1 L352.7 247.5 L352.7 246.7M350.7 247.2 L351.2 245.5 L351.4 244.4M344.4 243.2 L343.5 244.0 L343.3 245.4M351.0 241.8 L350.0 242.3 L348.7 243.0M354.2 244.5 L352.9 245.1 L352.2 245.1M354.5 246.1 L353.8 246.8 L353.1 247.5M360.5 246.9 L361.7 245.9 L363.3 245.7M361.3 245.4 L362.7 244.8 L363.5 244.3M359.5 238.1 L360.4 238.4 L361.2 238.6M360.6 231.4 L361.4 230.3 L361.3 229.8M357.8 228.0 L359.4 229.0 L360.4 229.2M358.2 223.7 L359.4 223.3 L360.2 223.2M358.9 222.5 L360.3 222.5 L361.0 222.7M358.4 221.0 L358.3 222.2 L358.9 223.7M361.5 217.9 L362.6 218.6 L362.8 219.6M364.0 216.5 L365.7 216.4 L367.0 215.9M365.8 211.9 L366.0 213.1 L366.6 213.8M367.0 212.2 L365.9 213.6 L365.1 214.3M368.3 212.0 L369.4 213.7 L370.2 214.6M369.5 211.8 L369.8 213.2 L369.9 214.2M370.8 212.8 L370.8 214.1 L371.1 215.2M372.0 211.7 L371.7 212.3 L372.1 213.3M373.3 211.3 L373.2 212.2 L373.0 213.4M374.5 211.6 L374.2 212.5 L374.4 213.2M380.8 212.6 L380.8 214.2 L380.9 215.6M247.8 345.1 L248.7 345.1 L249.7 345.4M249.6 339.8 L250.0 340.7 L250.3 342.0M249.6 338.3 L250.3 339.1 L251.5 339.5M252.3 337.0 L253.0 338.3 L254.2 338.9M252.8 334.3 L253.2 335.2 L253.6 335.5M257.5 329.3 L257.4 330.2 L257.9 330.6M265.3 320.1 L267.1 320.1 L268.3 320.1M264.7 318.6 L266.8 319.0 L267.9 319.0M265.7 314.9 L266.9 315.8 L267.2 316.2M267.1 312.7 L268.1 313.8 L268.6 314.1M267.3 311.4 L269.2 311.1 L270.2 311.4M267.7 310.3 L268.4 310.4 L269.1 310.0M268.6 306.6 L269.5 306.7 L270.3 307.2M270.3 305.5 L271.6 305.1 L272.5 304.6M270.9 304.1 L271.6 303.5 L272.6 302.7M270.8 301.2 L271.6 300.4 L272.5 300.0M269.8 299.6 L270.5 301.4 L271.1 302.5M270.7 296.9 L271.7 298.4 L272.1 299.1M272.4 294.9 L273.6 295.5 L274.4 295.8M273.5 292.6 L274.4 293.6 L274.5 293.7M274.5 290.3 L275.4 290.5 L276.0 291.3M274.6 287.6 L275.2 288.5 L275.5 289.6M277.1 284.6 L278.2 284.9 L278.5 285.4M279.9 272.6 L280.1 274.3 L279.6 275.7M282.3 271.0 L282.6 271.6 L283.0 272.6M285.3 267.9 L286.3 268.8 L287.8 269.8M287.1 263.9 L288.0 264.3 L288.9 264.9M287.2 262.3 L289.0 262.7 L290.4 262.6M288.0 261.1 L288.2 261.8 L288.8 262.4M289.9 261.1 L290.1 261.8 L290.7 262.5M289.5 258.7 L290.5 260.1 L290.9 261.5M295.1 256.9 L294.9 258.1 L295.3 259.0M297.5 254.9 L297.5 256.1 L297.6 257.1" fill="none" stroke="#3e3e3e" stroke-width="0.55" opacity="0.85"/><path d="M302.0 297.5 L303.1 296.7 L304.3 296.0 L305.6 295.5 L306.9 295.2 L308.2 295.3 L309.4 295.8 L310.5 296.5 L311.8 296.7 L311.2 298.0 L311.5 299.3 L311.4 300.6 L311.0 301.9 L311.1 303.3 L310.2 304.5 L310.3 306.0 L309.9 307.4 L309.2 308.7 L309.2 310.2 L308.5 311.4 L307.9 312.7 L308.1 314.2 L307.3 315.4 L307.4 316.9 L306.9 318.2 L306.9 319.6 L307.4 320.7 L308.0 321.9 L308.7 323.0 L309.0 324.2 L308.8 325.6 L309.7 326.6 L310.2 327.8 L310.3 329.1 L311.0 330.2 L311.2 331.5 L312.2 332.4 L312.7 333.5 L312.6 334.9 L313.5 335.9 L314.5 336.8 L315.9 337.3 L316.9 338.2 L318.4 338.6 L319.7 338.1 L320.8 337.1 L322.1 336.6 L323.6 336.4 L324.9 336.1 L325.8 335.0 L327.0 334.6 L328.0 333.6 L329.2 333.1 L330.1 332.2 L331.4 331.8 L332.5 331.1 L333.5 330.0 L334.9 329.6 L335.6 328.3 L336.7 327.6 L338.0 326.9 L339.3 326.6 L340.7 326.5 L341.9 325.9 L343.3 325.8 L344.5 325.5 L346.3 325.9 L347.7 326.9 L346.5 327.7 L345.2 328.4 L344.1 329.3 L342.9 330.3 L341.7 331.1 L340.4 331.5 L339.1 332.0 L337.8 332.5 L336.4 332.8 L335.4 333.6 L334.1 334.0 L332.9 334.5 L331.8 335.2 L330.7 335.8 L329.9 336.9 L328.6 337.2 L327.8 338.4 L326.7 339.2 L325.5 339.7 L324.3 340.1 L323.3 341.0 L322.0 341.5 L320.7 341.6 L319.3 341.6 L318.0 342.3 L316.7 342.5 L316.1 343.7 L315.6 345.0 L314.3 345.8 L313.6 347.0 L313.0 348.3 L312.6 349.6 L311.8 350.7 L310.2 350.9 L308.5 350.6 L306.9 350.7 L306.1 349.5 L306.0 348.1 L305.2 346.9 L304.2 345.9 L304.1 344.4 L303.4 343.3 L302.4 342.2 L301.9 340.9 L301.5 339.6 L300.3 338.7 L299.8 337.4 L299.5 336.0 L298.3 335.1 L297.8 333.9 L297.2 332.7 L297.1 331.3 L296.8 329.9 L296.3 328.6 L296.4 327.2 L295.5 325.9 L295.6 324.6 L295.8 323.3 L296.5 322.2 L296.9 321.1 L297.1 319.8 L297.9 318.7 L298.3 317.5 L298.9 316.4 L299.3 315.0 L299.5 313.6 L299.8 312.2 L300.7 311.0 L300.6 309.5 L301.2 308.2 L301.4 306.8 L301.8 305.5 L301.2 304.2 L301.7 302.9 L301.4 301.5 L301.9 300.2 L302.0 298.9Z" fill="#c3e8f6" stroke="#3e3e3e" stroke-width="0.5" stroke-linejoin="round"/><path d="M349.4 229.6 L350.8 229.2 L352.2 229.0 L353.4 228.4 L353.9 229.7 L354.7 230.8 L355.1 232.0 L354.0 233.3 L352.7 234.6 L351.1 233.9 L349.8 232.9 L349.4 231.3Z" fill="#b4b5b4" stroke="#3e3e3e" stroke-width="0.7" stroke-linejoin="round"/><path d="M279.1 278.7 L278.7 280.1 L278.4 281.5 L278.1 282.9 L278.0 284.3 L277.7 285.7 L278.0 287.2 L277.5 288.5 L277.0 289.8 L277.0 291.1 L276.7 292.4 L277.0 293.8 L276.6 295.1 L276.6 296.4 L276.3 297.7 L276.1 299.0 L276.3 300.3 L275.9 301.6 L275.6 303.0 L274.9 304.2 L274.7 305.5 L274.7 306.9 L274.0 308.1 L274.1 309.5 L273.4 310.8 L273.4 312.1 L273.2 313.5 L272.4 314.7 L272.9 316.0 L273.0 317.3 L272.7 318.7 L273.0 320.0 L273.5 321.2 L273.2 322.6 L273.7 323.9 L273.7 325.2 L274.2 326.5 L274.1 327.8 L274.5 329.1 L274.7 330.3 L275.2 331.5 L275.9 332.7 L276.3 333.9 L276.8 335.1 L277.2 336.3 L277.5 337.6 L277.7 338.9 L277.7 340.2 L278.2 341.5 L278.0 342.9 L278.4 344.1 L278.5 345.4 L278.4 346.8 L278.8 348.1 L279.0 349.4 L279.1 350.7" fill="none" stroke="#5a5a5a" stroke-width="0.5" opacity="1" stroke-linecap="round" stroke-linejoin="round"/><path d="M300.3 264.0 L300.4 265.3 L300.5 266.6 L300.6 267.8 L300.9 269.1 L301.0 270.4 L301.7 271.6 L301.6 272.9 L301.5 274.2 L302.0 275.5 L302.3 276.8 L303.3 277.9 L303.6 279.2 L304.3 280.5 L304.7 281.8 L305.2 283.1 L306.1 284.2 L306.5 285.6 L306.9 286.9 L306.4 288.2 L306.2 289.6 L306.3 291.0 L305.6 292.3 L305.7 293.8 L305.3 295.1" fill="none" stroke="#5a5a5a" stroke-width="0.5" opacity="1" stroke-linecap="round" stroke-linejoin="round"/><path d="M308.5 260.7 L308.8 262.0 L309.1 263.3 L309.4 264.6 L309.8 265.8 L310.1 267.1 L311.0 268.3 L311.1 269.6 L311.2 271.0 L311.8 272.2 L312.3 273.4 L313.4 274.2 L314.0 275.4 L314.8 276.4 L315.4 277.6 L316.1 278.7 L317.1 279.6 L317.8 280.8 L318.4 282.0 L318.9 283.2 L319.7 284.3 L320.7 285.1 L321.1 286.4 L322.2 287.3 L322.6 288.6 L323.6 289.5 L324.4 290.5 L324.8 291.9 L325.9 292.6 L326.9 293.5 L327.5 294.8 L328.5 295.7 L329.7 296.4 L330.3 297.6 L331.4 298.4 L332.3 299.4 L333.4 300.1 L334.0 301.3 L335.1 302.2 L335.9 303.2 L336.9 304.1 L338.0 304.9 L338.5 306.1 L339.0 307.3 L339.4 308.5 L339.9 309.7 L340.1 311.0 L340.4 312.3 L341.1 313.4 L341.2 314.7 L341.1 316.1 L340.9 317.5 L340.4 318.9 L340.3 320.3 L340.2 321.7 L339.9 323.1 L339.6 324.5" fill="none" stroke="#5a5a5a" stroke-width="0.5" opacity="1" stroke-linecap="round" stroke-linejoin="round"/><path d="M288.9 275.5 L290.1 276.2 L291.4 276.9 L292.7 277.6 L294.1 278.2 L295.4 278.8 L296.6 279.4 L297.3 280.6 L298.1 281.7 L299.1 282.5 L299.9 283.6 L301.2 284.2 L302.0 285.3" fill="none" stroke="#5a5a5a" stroke-width="0.5" opacity="1" stroke-linecap="round" stroke-linejoin="round"/>
<rect x="221.6" y="194.6" width="30.9" height="44.2" fill="none" stroke="#e6202a" stroke-width="2.9"/>
</g>
<rect x="73.6" y="73.6" width="311.4" height="273.4" fill="none" stroke="#111" stroke-width="1.7"/>
<clipPath id="cb"><rect x="73.6" y="351" width="311.2" height="447.6"/></clipPath>
<g clip-path="url(#cb)">
<rect x="73.6" y="351" width="311.2" height="447.6" fill="#fff"/>
<path d="M105.2 351 L101.8 437 L92.5 560 L84 650 L76 765 M204.2 351 L207.5 437 L211.5 490 L218 560 L224 625 L230 716 L235 799 M253 351 L262.5 437 L273 485 L287 625 L311 765 L317 799 M303 351 L318 420 L349 540 L364 625 L384.6 716 M355 351 L371 405 L384.6 440 M73 434.5 L160 436 L230 433.3 L262.5 429.5 L317 420 L371 407 L384.6 403 M73 585.5 L150 587.5 L230 584 L290 577 L350 566 L384.6 559 M73 738 L150 740 L230 738 L303 730 L350 722.5 L384.6 717" fill="none" stroke="#d2d2d2" stroke-width="0.65" stroke-dasharray="7 6"/>
<path d="M155.2 351 V799" fill="none" stroke="#e6efee" stroke-width="0.8"/>
<g transform="translate(70,345) scale(0.16360)"><path d="M100 40 L80 60 L70 100 L80 150 L105 185 L140 210 L125 225 L120 255 L135 285 L155 330 L170 380 L180 430 L178 470 L185 520 L192 560 L185 610 L188 660 L183 720 L165 765 L175 800 L180 856" fill="none" stroke="#2e6f97" stroke-width="1.15" vector-effect="non-scaling-stroke" stroke-linejoin="round" stroke-linecap="round" /><path d="M592 40 L592 100 L605 150 L640 180 L680 210 L703 260 L695 310 L670 345 L652 365 L665 395 L700 412 L730 418 L745 408 L770 420 L800 435 L830 470 L855 500 L875 510 L885 530 L930 560 L978 595" fill="none" stroke="#2e6f97" stroke-width="1.15" vector-effect="non-scaling-stroke" stroke-linejoin="round" stroke-linecap="round" /><path d="M655 600 L680 592 L703 600 L705 625 L695 655 L675 665 L665 640 L660 620Z" fill="none" stroke="#2e6f97" stroke-width="1.15" vector-effect="non-scaling-stroke" stroke-linejoin="round" stroke-linecap="round" /><path d="M660 758 L672 730 L690 710 L705 703 L700 725 L685 742 L668 760Z" fill="none" stroke="#2e6f97" stroke-width="1.15" vector-effect="non-scaling-stroke" stroke-linejoin="round" stroke-linecap="round" /><path d="M755 750 L770 742 L790 748 L805 765 L800 782 L780 780 L763 768Z" fill="none" stroke="#2e6f97" stroke-width="1.15" vector-effect="non-scaling-stroke" stroke-linejoin="round" stroke-linecap="round" /><circle cx="267" cy="670" r="6" fill="#2e6f97"/><path d="M978 760 L940 790 L905 815 L880 835 L900 850 L930 860" fill="none" stroke="#2e6f97" stroke-width="1.15" vector-effect="non-scaling-stroke" stroke-linejoin="round" stroke-linecap="round" /></g>
<g transform="translate(230,345) scale(0.16360)"><path d="M640 40 L600 50 L585 80 L590 120 L610 150 L600 170 L560 180 L510 195 L470 230 L430 260 L418 290 L430 330 L460 375 L445 400 L420 430 L400 480 L385 530 L355 590 L320 630 L275 670 L255 710 L280 750 L320 810 L350 835 L340 856" fill="none" stroke="#86cdf0" stroke-width="1.15" vector-effect="non-scaling-stroke" stroke-linejoin="round" stroke-linecap="round" /><path d="M690 40 L720 80 L760 120 L790 160 L800 200 L805 250 L815 290 L805 240 L815 215" fill="none" stroke="#86cdf0" stroke-width="1.15" vector-effect="non-scaling-stroke" stroke-linejoin="round" stroke-linecap="round" /><path d="M760 40 L800 80 L850 130 L890 180 L920 210 L945 235" fill="none" stroke="#86cdf0" stroke-width="1.15" vector-effect="non-scaling-stroke" stroke-linejoin="round" stroke-linecap="round" /><path d="M820 210 L860 225 L900 255 L945 290" fill="none" stroke="#86cdf0" stroke-width="1.15" vector-effect="non-scaling-stroke" stroke-linejoin="round" stroke-linecap="round" /><path d="M505 290 L520 275 L540 255 L535 280 L548 295" fill="none" stroke="#86cdf0" stroke-width="1.6" vector-effect="non-scaling-stroke" stroke-linejoin="round" stroke-linecap="round" /><path d="M465 232 L490 245" fill="none" stroke="#86cdf0" stroke-width="1.15" vector-effect="non-scaling-stroke" stroke-linejoin="round" stroke-linecap="round" /><path d="M465 510 L472 540" fill="none" stroke="#86cdf0" stroke-width="1.15" vector-effect="non-scaling-stroke" stroke-linejoin="round" stroke-linecap="round" /><path d="M590 370 L597 380" fill="none" stroke="#86cdf0" stroke-width="1.15" vector-effect="non-scaling-stroke" stroke-linejoin="round" stroke-linecap="round" /><path d="M0 600 L25 625 L45 675 L30 730 L0 765" fill="none" stroke="#2e6f97" stroke-width="1.15" vector-effect="non-scaling-stroke" stroke-linejoin="round" stroke-linecap="round" /><path d="M445 580 C447.5 574.2 463.3 571.7 470 575 C476.7 578.3 481.7 600.8 485 600 C488.3 599.2 484.2 580.0 490 570 C495.8 560.0 510.8 544.2 520 540 C529.2 535.8 538.3 539.2 545 545 C551.7 550.8 554.2 565.8 560 575 C565.8 584.2 579.2 605.0 580 600 C580.8 595.0 564.2 557.5 565 545 C565.8 532.5 577.5 523.3 585 525 C592.5 526.7 600.8 554.2 610 555 C619.2 555.8 630.8 539.2 640 530 C649.2 520.8 655.0 507.5 665 500 C675.0 492.5 690.8 483.3 700 485 C709.2 486.7 717.5 499.2 720 510 C722.5 520.8 720.0 539.2 715 550 C710.0 560.8 700.8 568.3 690 575 C679.2 581.7 660.8 580.8 650 590 C639.2 599.2 626.7 621.7 625 630 C623.3 638.3 629.2 643.3 640 640 C650.8 636.7 676.7 616.7 690 610 C703.3 603.3 712.5 597.5 720 600 C727.5 602.5 735.8 615.0 735 625 C734.2 635.0 714.2 653.3 715 660 C715.8 666.7 731.7 658.3 740 665 C748.3 671.7 758.3 686.7 765 700 C771.7 713.3 775.8 739.2 780 745 C784.2 750.8 791.7 745.8 790 735 C788.3 724.2 777.5 695.8 770 680 C762.5 664.2 749.2 655.0 745 640 C740.8 625.0 742.5 606.7 745 590 C747.5 573.3 755.0 554.2 760 540 C765.0 525.8 768.3 510.0 775 505 C781.7 500.0 790.8 503.3 800 510 C809.2 516.7 820.0 533.3 830 545 C840.0 556.7 850.8 566.7 860 580 C869.2 593.3 876.7 610.0 885 625 C893.3 640.0 900.0 655.0 910 670 C920.0 685.0 939.2 681.7 945 715 C950.8 748.3 1000.8 844.2 945 870 C889.2 895.8 667.5 876.7 610 870 C552.5 863.3 603.3 841.7 600 830 C596.7 818.3 595.0 808.3 590 800 C585.0 791.7 570.0 785.0 570 780 C570.0 775.0 583.3 768.3 590 770 C596.7 771.7 608.3 781.7 610 790 C611.7 798.3 610.8 806.7 600 820 C589.2 833.3 556.7 870.0 545 870 C533.3 870.0 537.5 835.0 530 820 C522.5 805.0 506.7 793.3 500 780 C493.3 766.7 495.0 753.3 490 740 C485.0 726.7 474.2 710.0 470 700 C465.8 690.0 460.0 685.8 465 680 C470.0 674.2 499.2 670.0 500 665 C500.8 660.0 477.5 659.2 470 650 C462.5 640.8 459.2 621.7 455 610 C450.8 598.3 442.5 585.8 445 580Z" fill="#ababab" stroke="none" stroke-width="1.15" vector-effect="non-scaling-stroke" stroke-linejoin="round" stroke-linecap="round" /><path d="M860 355 C864.2 347.5 875.8 342.5 885 345 C894.2 347.5 905.0 360.8 915 370 C925.0 379.2 940.0 345.0 945 400 C950.0 455.0 950.8 658.3 945 700 C939.2 741.7 920.8 668.3 910 650 C899.2 631.7 888.3 608.3 880 590 C871.7 571.7 865.0 558.3 860 540 C855.0 521.7 850.0 496.7 850 480 C850.0 463.3 855.0 450.0 860 440 C865.0 430.0 880.0 428.3 880 420 C880.0 411.7 863.3 400.8 860 390 C856.7 379.2 855.8 362.5 860 355Z" fill="#ababab" stroke="none" stroke-width="1.15" vector-effect="non-scaling-stroke" stroke-linejoin="round" stroke-linecap="round" /></g>
<g transform="translate(70,485) scale(0.16360)"><path d="M178 0 L165 40 L160 90 L172 140 L175 200 L165 260 L160 310 L140 360 L110 400 L80 440 L62 500 L50 560 L60 620 L75 680 L72 740 L90 800 L115 856" fill="none" stroke="#2e6f97" stroke-width="1.15" vector-effect="non-scaling-stroke" stroke-linejoin="round" stroke-linecap="round" /><path d="M495 210 L530 235 L580 275 L630 310 L680 345 L700 385 L725 385 L735 400 L715 420 L690 450 L665 440 L630 405 L585 350 L540 290 L510 240Z" fill="none" stroke="#2e6f97" stroke-width="1.15" vector-effect="non-scaling-stroke" stroke-linejoin="round" stroke-linecap="round" /><path d="M838 378 L870 400 L910 420 L950 435 L985 447 L985 470 L930 465 L880 462 L860 455 L858 415Z" fill="none" stroke="#2e6f97" stroke-width="1.15" vector-effect="non-scaling-stroke" stroke-linejoin="round" stroke-linecap="round" /><path d="M880 -25 L895 -8 L920 8 L950 15 L990 34" fill="none" stroke="#2e6f97" stroke-width="1.15" vector-effect="non-scaling-stroke" stroke-linejoin="round" stroke-linecap="round" /></g>
<g transform="translate(230,485) scale(0.16360)"><path d="M0 35 L40 40 L90 60 L120 90 L130 130 L112 170 L125 195 L170 220 L220 240 L280 255 L320 280 L345 320 L345 370 L340 420 L355 470 L370 520 L375 560 L400 590 L430 625 L445 660 L480 700 L500 720 L520 770 L550 810 L575 840 L580 860" fill="none" stroke="#2e6f97" stroke-width="1.15" vector-effect="non-scaling-stroke" stroke-linejoin="round" stroke-linecap="round" /><path d="M70 232 L95 260 L90 280 L125 285 L150 310 L165 350 L175 390 L200 415 L180 455 L185 490 L175 520 L190 560 L210 545 L225 535 L215 580 L235 620 L250 660 L265 685 L245 705 L215 730 L210 750 L195 755 L190 720 L185 650 L180 580 L170 520 L165 480 L130 440 L100 415 L70 395 L60 410 L40 385 L15 355 L-10 335 L-10 300 L30 290 L50 260Z" fill="none" stroke="#2e6f97" stroke-width="1.15" vector-effect="non-scaling-stroke" stroke-linejoin="round" stroke-linecap="round" /><path d="M0 455 L15 462 L12 475 L0 478" fill="none" stroke="#2e6f97" stroke-width="1.15" vector-effect="non-scaling-stroke" stroke-linejoin="round" stroke-linecap="round" /><circle cx="40" cy="545" r="5" fill="#2e6f97"/><path d="M60 570 L80 565 L85 585 L65 590Z" fill="none" stroke="#2e6f97" stroke-width="1.15" vector-effect="non-scaling-stroke" stroke-linejoin="round" stroke-linecap="round" /><path d="M90 595 L110 600 L100 620 L85 612Z" fill="none" stroke="#2e6f97" stroke-width="1.15" vector-effect="non-scaling-stroke" stroke-linejoin="round" stroke-linecap="round" /><path d="M405 690 L420 700 L425 730 L440 740 L430 770 L425 800 L410 830 L395 810 L385 780 L375 770 L370 745 L385 720Z" fill="none" stroke="#2e6f97" stroke-width="1.15" vector-effect="non-scaling-stroke" stroke-linejoin="round" stroke-linecap="round" /><path d="M455 745 L465 760 L460 780 L450 770Z" fill="none" stroke="#2e6f97" stroke-width="1.15" vector-effect="non-scaling-stroke" stroke-linejoin="round" stroke-linecap="round" /><path d="M5 320 L15 335" fill="none" stroke="#2e6f97" stroke-width="1.15" vector-effect="non-scaling-stroke" stroke-linejoin="round" stroke-linecap="round" /><path d="M15 345 L25 360" fill="none" stroke="#2e6f97" stroke-width="1.15" vector-effect="non-scaling-stroke" stroke-linejoin="round" stroke-linecap="round" /><circle cx="180" cy="832" r="4" fill="#2e6f97"/><circle cx="225" cy="836" r="6" fill="#2e6f97"/><circle cx="440" cy="834" r="4" fill="#2e6f97"/><path d="M320 0 L350 12 L400 5 L420 0" fill="none" stroke="#86cdf0" stroke-width="1.15" vector-effect="non-scaling-stroke" stroke-linejoin="round" stroke-linecap="round" /><path d="M490 0 L440 30 L400 50 L370 85 L350 115 L380 120 L415 110 L425 150 L430 190 L455 235 L480 270 L480 295 L520 300 L560 300 L575 285" fill="none" stroke="#86cdf0" stroke-width="1.15" vector-effect="non-scaling-stroke" stroke-linejoin="round" stroke-linecap="round" /><path d="M375 60 L400 50 L410 65" fill="none" stroke="#86cdf0" stroke-width="1.15" vector-effect="non-scaling-stroke" stroke-linejoin="round" stroke-linecap="round" /><path d="M800 395 L770 410 L720 430 L660 440 L620 420 L580 405 L540 415 L490 395 L465 405 L480 440 L500 470 L530 500 L570 525 L620 535 L680 535 L710 545 L715 580 L740 610 L755 640 L745 680 L725 700 L740 740 L770 770 L800 790 L840 805 L880 790 L900 760 L915 720 L900 680 L880 640 L860 620 L830 650 L815 690 L820 730 L800 760 L830 780 L870 770 L880 740" fill="none" stroke="#86cdf0" stroke-width="1.15" vector-effect="non-scaling-stroke" stroke-linejoin="round" stroke-linecap="round" /><path d="M545 420 L555 445" fill="none" stroke="#86cdf0" stroke-width="1.15" vector-effect="non-scaling-stroke" stroke-linejoin="round" stroke-linecap="round" /><path d="M945 600 L910 620 L880 640" fill="none" stroke="#86cdf0" stroke-width="1.15" vector-effect="non-scaling-stroke" stroke-linejoin="round" stroke-linecap="round" /><path d="M680 240 L700 270 L710 300 L720 330 L700 345 L650 340" fill="none" stroke="#86cdf0" stroke-width="1.15" vector-effect="non-scaling-stroke" stroke-linejoin="round" stroke-linecap="round" /><path d="M790 760 L830 745 L870 755 L850 790 L810 775" fill="none" stroke="#86cdf0" stroke-width="1.15" vector-effect="non-scaling-stroke" stroke-linejoin="round" stroke-linecap="round" /><path d="M880 790 L920 830 L945 800" fill="none" stroke="#86cdf0" stroke-width="1.15" vector-effect="non-scaling-stroke" stroke-linejoin="round" stroke-linecap="round" /><path d="M945 220 L925 235" fill="none" stroke="#86cdf0" stroke-width="1.15" vector-effect="non-scaling-stroke" stroke-linejoin="round" stroke-linecap="round" /><path d="M945 285 L925 300" fill="none" stroke="#86cdf0" stroke-width="1.15" vector-effect="non-scaling-stroke" stroke-linejoin="round" stroke-linecap="round" /><circle cx="460" cy="150" r="4" fill="#86cdf0"/><circle cx="435" cy="90" r="3" fill="#86cdf0"/><path d="M600 -5 C544.2 0.8 603.3 20.8 610 30 C616.7 39.2 630.8 47.5 640 50 C649.2 52.5 657.5 41.7 665 45 C672.5 48.3 685.8 63.3 685 70 C684.2 76.7 670.8 85.0 660 85 C649.2 85.0 631.7 72.2 620 70 C608.3 67.8 596.7 68.7 590 72 C583.3 75.3 578.3 83.7 580 90 C581.7 96.3 590.0 104.2 600 110 C610.0 115.8 631.7 118.3 640 125 C648.3 131.7 651.7 142.5 650 150 C648.3 157.5 634.2 161.7 630 170 C625.8 178.3 621.7 190.8 625 200 C628.3 209.2 639.2 218.3 650 225 C660.8 231.7 676.7 235.8 690 240 C703.3 244.2 716.7 250.0 730 250 C743.3 250.0 760.0 242.5 770 240 C780.0 237.5 788.3 232.5 790 235 C791.7 237.5 788.3 249.2 780 255 C771.7 260.8 749.2 264.2 740 270 C730.8 275.8 721.7 283.3 725 290 C728.3 296.7 749.2 301.7 760 310 C770.8 318.3 781.7 328.3 790 340 C798.3 351.7 800.0 372.5 810 380 C820.0 387.5 837.5 387.5 850 385 C862.5 382.5 877.5 371.7 885 365 C892.5 358.3 889.2 351.7 895 345 C900.8 338.3 911.7 330.8 920 325 C928.3 319.2 940.8 365.0 945 310 C949.2 255.0 1002.5 47.5 945 -5 C887.5 -57.5 655.8 -10.8 600 -5Z" fill="#ababab" stroke="none" stroke-width="1.15" vector-effect="non-scaling-stroke" stroke-linejoin="round" stroke-linecap="round" /><path d="M905 130 L925 125 L940 190 L930 235 L915 220 L905 170Z" fill="#fff" stroke="none" stroke-width="1.15" vector-effect="non-scaling-stroke" stroke-linejoin="round" stroke-linecap="round" /><path d="M545 15 L560 -5 L585 -5 L570 20 L550 28Z" fill="#ababab" stroke="none" stroke-width="1.15" vector-effect="non-scaling-stroke" stroke-linejoin="round" stroke-linecap="round" /><path d="M505 125 C505.8 116.7 515.8 116.7 525 120 C534.2 123.3 550.8 134.2 560 145 C569.2 155.8 575.0 171.7 580 185 C585.0 198.3 585.0 212.5 590 225 C595.0 237.5 601.7 249.2 610 260 C618.3 270.8 630.0 280.8 640 290 C650.0 299.2 660.0 305.0 670 315 C680.0 325.0 691.7 338.3 700 350 C708.3 361.7 715.0 375.0 720 385 C725.0 395.0 731.7 405.8 730 410 C728.3 414.2 718.3 415.0 710 410 C701.7 405.0 690.0 390.8 680 380 C670.0 369.2 659.2 355.0 650 345 C640.8 335.0 632.5 324.2 625 320 C617.5 315.8 610.8 325.8 605 320 C599.2 314.2 595.8 296.7 590 285 C584.2 273.3 577.5 262.5 570 250 C562.5 237.5 553.3 223.3 545 210 C536.7 196.7 526.7 184.2 520 170 C513.3 155.8 504.2 133.3 505 125Z" fill="#ababab" stroke="none" stroke-width="1.15" vector-effect="non-scaling-stroke" stroke-linejoin="round" stroke-linecap="round" /><path d="M885 445 L915 425 L945 430 L945 590 L925 560 L905 510 L890 470Z" fill="#ababab" stroke="none" stroke-width="1.15" vector-effect="non-scaling-stroke" stroke-linejoin="round" stroke-linecap="round" /></g>
<g transform="translate(70,625) scale(0.16360)"><path d="M115 0 L135 30 L155 70 L175 110 L185 150 L195 180 L212 205 L190 185 L160 195 L130 185 L100 180 L90 170 L70 185 L55 215 L25 240 L10 245" fill="none" stroke="#2e6f97" stroke-width="1.15" vector-effect="non-scaling-stroke" stroke-linejoin="round" stroke-linecap="round" /><path d="M333 440 L345 460" fill="none" stroke="#2e6f97" stroke-width="1.5" vector-effect="non-scaling-stroke" stroke-linejoin="round" stroke-linecap="round" /><path d="M440 460 L460 465 L480 490 L485 520 L470 535 L455 520 L440 490Z" fill="none" stroke="#2e6f97" stroke-width="1.15" vector-effect="non-scaling-stroke" stroke-linejoin="round" stroke-linecap="round" /><path d="M420 525 L445 550 L480 595 L520 640 L560 690 L585 730 L610 780 L640 820 L665 856 L700 905 L740 960 L745 985 L725 975 L700 940 L660 895 L625 856 L595 820 L560 770 L525 710 L495 650 L460 590 L435 550Z" fill="none" stroke="#2e6f97" stroke-width="1.15" vector-effect="non-scaling-stroke" stroke-linejoin="round" stroke-linecap="round" /></g>
<g transform="translate(230,625) scale(0.16360)"><path d="M575 0 L610 40 L650 90 L690 135 L730 160 L770 190 L800 230 L815 270 L840 305 L845 340 L860 380 L880 430 L890 480 L905 530 L915 575 L935 620 L950 650" fill="none" stroke="#2e6f97" stroke-width="1.15" vector-effect="non-scaling-stroke" stroke-linejoin="round" stroke-linecap="round" /><path d="M180 60 L200 20 L210 -5 L230 -5 L225 15 L200 40Z" fill="none" stroke="#2e6f97" stroke-width="1.15" vector-effect="non-scaling-stroke" stroke-linejoin="round" stroke-linecap="round" /><path d="M125 190 L145 130 L155 100 L170 110 L165 150 L145 180Z" fill="none" stroke="#2e6f97" stroke-width="1.15" vector-effect="non-scaling-stroke" stroke-linejoin="round" stroke-linecap="round" /><path d="M190 130 L210 120 L230 135 L240 100 L265 90 L280 110 L285 140 L290 165 L270 185 L255 170 L235 200 L205 205 L185 200Z" fill="none" stroke="#2e6f97" stroke-width="1.15" vector-effect="non-scaling-stroke" stroke-linejoin="round" stroke-linecap="round" /><path d="M465 130 L485 125 L495 145 L490 165 L475 150Z" fill="none" stroke="#2e6f97" stroke-width="1.15" vector-effect="non-scaling-stroke" stroke-linejoin="round" stroke-linecap="round" /><path d="M385 200 L400 195 L410 215 L430 205 L445 235 L460 265 L470 300 L460 330 L430 325 L415 285 L405 250 L390 235Z" fill="none" stroke="#2e6f97" stroke-width="1.15" vector-effect="non-scaling-stroke" stroke-linejoin="round" stroke-linecap="round" /><path d="M495 315 L510 305 L518 340 L520 390 L515 430 L505 435 L495 400 L488 350Z" fill="none" stroke="#2e6f97" stroke-width="1.15" vector-effect="non-scaling-stroke" stroke-linejoin="round" stroke-linecap="round" /><path d="M260 385 L270 400 L295 405 L295 440 L265 440 L258 410Z" fill="none" stroke="#2e6f97" stroke-width="1.15" vector-effect="non-scaling-stroke" stroke-linejoin="round" stroke-linecap="round" /><path d="M390 445 L410 445 L425 470 L420 490 L400 490 L392 465Z" fill="none" stroke="#2e6f97" stroke-width="1.15" vector-effect="non-scaling-stroke" stroke-linejoin="round" stroke-linecap="round" /><path d="M125 505 L150 500 L155 535 L140 552 L122 540Z" fill="none" stroke="#2e6f97" stroke-width="1.15" vector-effect="non-scaling-stroke" stroke-linejoin="round" stroke-linecap="round" /><path d="M220 480 L230 470 L240 510 L255 530 L240 540 L225 520Z" fill="none" stroke="#2e6f97" stroke-width="1.15" vector-effect="non-scaling-stroke" stroke-linejoin="round" stroke-linecap="round" /><path d="M275 565 L288 570 L285 588 L275 580Z" fill="none" stroke="#2e6f97" stroke-width="1.15" vector-effect="non-scaling-stroke" stroke-linejoin="round" stroke-linecap="round" /><path d="M455 600 L480 595 L490 625 L510 650 L525 665 L520 690 L535 715 L515 700 L495 660 L470 630Z" fill="none" stroke="#2e6f97" stroke-width="1.15" vector-effect="non-scaling-stroke" stroke-linejoin="round" stroke-linecap="round" /><path d="M590 735 L600 728 L612 755 L610 775 L598 765Z" fill="none" stroke="#2e6f97" stroke-width="1.15" vector-effect="non-scaling-stroke" stroke-linejoin="round" stroke-linecap="round" /><path d="M35 670 L55 660 L55 690 L40 695Z" fill="none" stroke="#2e6f97" stroke-width="1.15" vector-effect="non-scaling-stroke" stroke-linejoin="round" stroke-linecap="round" /><circle cx="112" cy="664" r="5" fill="#2e6f97"/><circle cx="440" cy="400" r="3" fill="#2e6f97"/><circle cx="460" cy="530" r="3" fill="#2e6f97"/><circle cx="460" cy="95" r="4" fill="#2e6f97"/><circle cx="262" cy="530" r="4" fill="#2e6f97"/><circle cx="108" cy="485" r="3" fill="#2e6f97"/></g>
<g transform="translate(230,716) scale(0.16360)"><path d="M365 405 L400 400 L405 440 L385 460 L370 435Z" fill="none" stroke="#2e6f97" stroke-width="1.15" vector-effect="non-scaling-stroke" stroke-linejoin="round" stroke-linecap="round" /><path d="M485 465 L500 470 L495 500 L487 495Z" fill="none" stroke="#2e6f97" stroke-width="1.15" vector-effect="non-scaling-stroke" stroke-linejoin="round" stroke-linecap="round" /><circle cx="430" cy="455" r="5" fill="#2e6f97"/><circle cx="355" cy="410" r="4" fill="#2e6f97"/></g>
</g>
<rect x="73.4" y="351" width="311.4" height="447.8" fill="none" stroke="#1c1c1c" stroke-width="2"/>
<circle cx="204.5" cy="510.3" r="6.3" fill="#000"/><circle cx="252.1" cy="493.2" r="6.6" fill="#000"/>
<text x="194" y="499" font-size="17.6" font-weight="bold" fill="#111" textLength="20.5" lengthAdjust="spacingAndGlyphs">F7</text>
<text x="240.4" y="481.7" font-size="17.6" font-weight="bold" fill="#111" textLength="24.2" lengthAdjust="spacingAndGlyphs">D6</text>
<text x="33" y="438.3" font-size="18.3" fill="#1a1a1a" textLength="29" lengthAdjust="spacingAndGlyphs">80°</text>
<text x="33" y="591.5" font-size="18.3" fill="#1a1a1a" textLength="29" lengthAdjust="spacingAndGlyphs">78°</text>
<text x="33" y="744.7" font-size="18.3" fill="#1a1a1a" textLength="29" lengthAdjust="spacingAndGlyphs">76°</text>
<text x="61" y="826" font-size="18.3" fill="#1a1a1a" textLength="24" lengthAdjust="spacingAndGlyphs">-4°</text>
<text x="145.5" y="826" font-size="18.3" fill="#1a1a1a" textLength="17.7" lengthAdjust="spacingAndGlyphs">0°</text>
<text x="226.6" y="826" font-size="18.3" fill="#1a1a1a" textLength="18.2" lengthAdjust="spacingAndGlyphs">4°</text>
<text x="308.2" y="826" font-size="18.3" fill="#1a1a1a" textLength="17.5" lengthAdjust="spacingAndGlyphs">8°</text>
<text x="172.7" y="853" font-size="25" fill="#161616" textLength="94.6" lengthAdjust="spacingAndGlyphs">Latitude</text>
<text transform="translate(21.2,631.3) rotate(-90)" font-size="25" fill="#161616" textLength="113.4" lengthAdjust="spacingAndGlyphs">Longitude</text>
<g style="isolation:isolate">
<polyline points="569.7,205.7 553.9,206.9 553.1,209.4 565.3,212.0 577.8,213.8 595.4,214.5 600.4,215.7 604.2,219.5 613.0,220.8 620.5,223.3 625.6,228.3 640.6,229.6 659.5,230.8 667.0,233.3 671.4,236.5 672.1,239.6 670.2,241.2 677.1,242.5 685.0,243.4 692.6,243.4 711.4,245.0 730.3,245.9 742.8,246.9 748.5,248.4 749.7,252.2 752.2,253.8 748.5,256.6 741.6,259.7 746.6,262.8 755.4,263.9 759.2,267.9 754.1,270.4 752.2,273.5 756.0,277.3 754.8,284.2 756.0,290.5 753.5,295.5 757.9,299.3 758.9,302.0 753.8,295.0 758.8,300.0 756.3,315.1 756.3,330.2 753.8,340.2 750.0,350.3 745.7,361.6 745.0,372.9 743.2,390.5 743.2,415.6 742.4,440.8 739.9,460.9 737.4,481.0 736.2,496.1 734.9,509.1" fill="none" stroke="#6c67b3" stroke-width="2.0" stroke-linejoin="round" stroke-linecap="round"/>
<polyline points="736.1,500.0 735.2,505.0 734.7,510.1 733.6,515.1 733.2,520.1 732.5,525.1 731.8,530.2 731.5,535.2 730.7,540.2 730.4,545.2 729.6,550.3 729.1,555.3 728.8,560.3 728.6,565.3 727.6,570.4 727.2,575.4 723.7,582.9 723.1,588.0 722.1,593.0 721.3,598.0 720.9,603.0 719.6,608.1 719.2,613.9 718.0,619.8 717.1,625.7 716.7,630.7 716.5,635.7 716.4,640.7 715.7,645.8 715.6,650.8 714.8,655.8 713.8,660.8 713.1,665.9 712.0,670.9 711.4,675.9 710.9,680.9 710.5,686.0 709.7,691.0 708.8,696.0 708.1,701.1 707.2,706.1 707.6,707.5 707.1,713.2 706.2,718.8 705.3,725.8 704.9,732.7 703.6,738.3 702.5,744.0 701.9,750.9 701.2,757.8 702.1,764.1 702.1,770.4 702.6,775.4 701.8,780.4" fill="none" stroke="#6c67b3" stroke-width="1.8" stroke-linejoin="round" stroke-linecap="round"/>
<polyline points="815.7,205.3 812.6,206.3 811.9,208.8 812.9,211.1 818.2,213.6 827.0,214.9 828.5,220.1 827.3,224.5 827.8,227.9 833.9,229.6 835.0,232.7 834.3,236.5 832.4,240.0 824.5,242.1 815.1,243.7 805.6,245.5 798.1,246.5 790.6,247.8 780.5,249.7 779.3,250.9 778.0,253.0 768.0,256.6 755.4,259.1 747.8,261.0 747.2,263.5 745.3,266.0 741.6,269.8 734.0,271.6 730.3,274.2 730.5,277.3 728.4,278.9 718.9,284.8 715.8,289.0 713.9,291.7 707.0,295.5 705.8,298.0 706.6,302.0 708.5,295.0 706.0,302.5 699.7,315.1 697.2,325.2 695.9,334.0 692.2,341.5 685.9,352.8 679.6,361.6 675.8,372.9 670.8,386.7 668.3,400.6 664.5,415.6 660.8,430.7 659.5,443.3 654.5,455.8 652.0,468.4 648.2,481.0 645.7,496.1 642.7,509.1" fill="none" stroke="#dd5f1b" stroke-width="2.1" stroke-linejoin="round" stroke-linecap="round"/>
<polyline points="645.3,500.0 643.4,505.0 641.5,510.1 639.7,515.1 637.5,520.9 635.5,526.8 632.8,532.7 631.4,538.5 630.1,544.4 628.2,550.3 625.9,552.8 625.3,557.8 625.6,562.8 623.5,569.1 621.8,575.4 616.8,580.4 615.6,585.4 614.9,590.5 614.1,595.5 612.0,600.5 609.4,605.6 605.9,610.6 603.2,615.6 601.5,620.6 600.5,625.7 598.9,630.7 596.7,635.7 595.3,640.7 592.7,645.8 590.6,650.8 589.1,655.8 586.9,660.8 583.6,665.9 581.2,670.9 579.4,675.9 578.1,680.9 576.4,686.0 574.4,690.4 571.7,694.8 570.0,700.4 568.1,706.1 567.6,706.3 567.0,713.8 563.8,720.1 562.5,725.1 561.2,730.2 558.2,736.4 555.3,742.7 553.9,749.0 553.4,755.3 552.6,761.6 551.9,767.8 549.1,775.4 547.0,779.8" fill="none" stroke="#dd5f1b" stroke-width="1.9" stroke-linejoin="round" stroke-linecap="round"/>
<polyline points="829.5,205.3 826.4,206.6 826.1,208.6 828.5,210.7 827.0,213.2 831.4,215.1 827.0,216.4 829.1,218.9 826.8,220.8 826.4,223.3 817.0,225.8 810.7,228.0 805.6,229.6 793.1,231.4 774.2,232.3 742.8,232.7 680.0,232.9 640.6,233.3 609.2,234.2 590.4,235.5 570.3,237.5 567.1,238.7 556.5,240.9 550.2,243.1 551.7,244.6 551.4,246.5 551.7,249.3 547.9,251.3 547.7,253.4 544.9,254.3 545.2,257.6 542.0,259.7 542.9,263.5 539.8,265.1 540.1,267.6 537.0,268.9 539.9,270.1 537.9,273.5 540.1,277.3 538.0,278.2 537.6,281.7 534.9,283.0 535.1,288.6 537.9,289.9 535.1,291.5 535.4,298.0 537.4,299.9 535.1,302.0" fill="none" stroke="#15986f" stroke-width="2.4" stroke-linejoin="round" stroke-linecap="round"/>
<polyline points="534.6,295.0 535.9,296.7 536.2,298.4 537.3,300.0 537.4,301.5 536.2,303.0 536.1,304.6 537.8,306.1 536.6,307.6 536.6,309.1 538.1,310.6 537.1,312.1 537.8,313.6 537.1,315.1 537.4,316.6 536.4,318.1 537.4,319.6 537.9,321.1 537.2,322.6 536.6,324.5 535.4,326.4 535.2,328.3 537.6,330.2 537.3,331.7 536.7,333.3 536.1,334.8 537.7,336.4 536.9,337.9 537.4,339.5 537.7,341.0 537.3,342.6 537.7,344.1 536.6,345.7 537.4,347.2 536.7,348.7 537.6,350.3 537.5,351.8 535.9,353.4 535.9,354.9 536.1,356.5 537.5,358.0 536.4,359.6 536.8,361.1 536.1,362.7 536.5,364.2 536.2,365.8 536.1,367.3 536.6,368.8 536.5,370.4 537.2,371.9 536.7,373.4 537.3,374.9 537.1,376.4 537.4,377.9 536.8,379.4 535.8,381.0 537.2,382.5 537.4,384.0 537.3,385.5 536.6,387.0 536.9,388.5 535.9,390.0 537.2,391.5 536.7,393.0 536.1,394.5 535.7,396.0 537.3,397.5 537.5,399.0 535.7,400.6 537.2,402.1 536.4,403.6 535.9,405.1 536.2,406.6 537.2,408.1 537.3,409.7 535.7,411.2 536.8,412.8 535.7,414.3 537.0,415.9 536.2,417.4 537.3,419.0 537.5,420.6 536.5,422.1 537.5,423.7 536.1,425.2 535.6,426.8 536.7,428.4 535.5,429.9 535.9,431.5 536.3,433.0 536.7,434.6 535.7,436.1 535.5,437.7 537.1,439.3 536.0,440.8 537.3,442.4 537.2,443.9 536.1,445.5 536.3,447.0" fill="none" stroke="#15986f" stroke-width="2.2" stroke-linejoin="round" stroke-linecap="round"/>
<rect x="518.3" y="207.1" width="325.8" height="130.6" fill="#ecedee" style="mix-blend-mode:multiply"/>
<rect x="518.3" y="550.5" width="325.8" height="156" fill="#c2c2c2" style="mix-blend-mode:multiply"/>
</g>
<path d="M529.0 106.4 H840.3000000000001" stroke="#15986f" stroke-width="1.4" fill="none"/>
<path d="M529.7 106.4 V94.2M581.4 106.4 V94.2M633.0 106.4 V94.2M684.7 106.4 V94.2M736.3 106.4 V94.2M788.0 106.4 V94.2M839.6 106.4 V94.2" stroke="#15986f" stroke-width="1.4" fill="none"/>
<text x="529.7" y="89.7" font-size="19" fill="#15986f" text-anchor="middle" font-weight="normal" >0.0</text>
<text x="581.4" y="89.7" font-size="19" fill="#15986f" text-anchor="middle" font-weight="normal" >0.2</text>
<text x="633.0" y="89.7" font-size="19" fill="#15986f" text-anchor="middle" font-weight="normal" >0.4</text>
<text x="684.7" y="89.7" font-size="19" fill="#15986f" text-anchor="middle" font-weight="normal" >0.6</text>
<text x="736.3" y="89.7" font-size="19" fill="#15986f" text-anchor="middle" font-weight="normal" >0.8</text>
<text x="788.0" y="89.7" font-size="19" fill="#15986f" text-anchor="middle" font-weight="normal" >1.0</text>
<text x="839.6" y="89.7" font-size="19" fill="#15986f" text-anchor="middle" font-weight="normal" >1.2</text>
<text x="520.3" y="101.4" font-size="19" fill="#15986f" text-anchor="end" font-weight="normal" textLength="110.8" lengthAdjust="spacingAndGlyphs" >chlorophyll a</text>
<path d="M529.0 142.3 H840.3000000000001" stroke="#8d89c4" stroke-width="1.4" fill="none"/>
<path d="M529.7 142.3 V130.10000000000002M581.4 142.3 V130.10000000000002M633.0 142.3 V130.10000000000002M684.7 142.3 V130.10000000000002M736.3 142.3 V130.10000000000002M788.0 142.3 V130.10000000000002M839.6 142.3 V130.10000000000002" stroke="#8d89c4" stroke-width="1.4" fill="none"/>
<text x="529.7" y="125.7" font-size="19" fill="#8d89c4" text-anchor="middle" font-weight="normal" >34.6</text>
<text x="633.0" y="125.7" font-size="19" fill="#8d89c4" text-anchor="middle" font-weight="normal" >34.8</text>
<text x="736.3" y="125.7" font-size="19" fill="#8d89c4" text-anchor="middle" font-weight="normal" >35.0</text>
<text x="839.6" y="125.7" font-size="19" fill="#8d89c4" text-anchor="middle" font-weight="normal" >35.2</text>
<text x="518.2" y="137.4" font-size="19" fill="#8d89c4" text-anchor="end" font-weight="normal" textLength="60" lengthAdjust="spacingAndGlyphs" >salinity</text>
<path d="M529.0 178.3 H840.3000000000001" stroke="#dd5f1b" stroke-width="1.4" fill="none"/>
<path d="M529.7 178.3 V166.10000000000002M574.0 178.3 V166.10000000000002M618.2 178.3 V166.10000000000002M662.5 178.3 V166.10000000000002M706.8 178.3 V166.10000000000002M751.1 178.3 V166.10000000000002M795.3 178.3 V166.10000000000002M839.6 178.3 V166.10000000000002" stroke="#dd5f1b" stroke-width="1.4" fill="none"/>
<text x="529.7" y="161.7" font-size="19" fill="#dd5f1b" text-anchor="middle" font-weight="normal" >0</text>
<text x="574.0" y="161.7" font-size="19" fill="#dd5f1b" text-anchor="middle" font-weight="normal" >1</text>
<text x="618.2" y="161.7" font-size="19" fill="#dd5f1b" text-anchor="middle" font-weight="normal" >2</text>
<text x="662.5" y="161.7" font-size="19" fill="#dd5f1b" text-anchor="middle" font-weight="normal" >3</text>
<text x="706.8" y="161.7" font-size="19" fill="#dd5f1b" text-anchor="middle" font-weight="normal" >4</text>
<text x="751.1" y="161.7" font-size="19" fill="#dd5f1b" text-anchor="middle" font-weight="normal" >5</text>
<text x="795.3" y="161.7" font-size="19" fill="#dd5f1b" text-anchor="middle" font-weight="normal" >6</text>
<text x="839.6" y="161.7" font-size="19" fill="#dd5f1b" text-anchor="middle" font-weight="normal" >7</text>
<text x="525.2" y="173.4" font-size="19" fill="#dd5f1b" text-anchor="end" font-weight="normal" textLength="106.5" lengthAdjust="spacingAndGlyphs" >temperature</text>
<path d="M517.3 200.55 V772.5" stroke="#333333" stroke-width="1.9" fill="none"/>
<path d="M504.79999999999995 201.5 H518.25M504.79999999999995 297.9 H518.25M504.79999999999995 394.3 H518.25M504.79999999999995 490.7 H518.25M504.79999999999995 587.1 H518.25M504.79999999999995 683.5 H518.25M504.79999999999995 779.9 H513.8M513.3 780.6 L520.9 767.2M513.3 792.6 L520.9 780.2M518.0999999999999 786.5 V807.6 H504.79999999999995" stroke="#333333" stroke-width="1.3" fill="none"/>
<text x="504.49999999999994" y="208.5" font-size="19.6" fill="#1a1a1a" text-anchor="end" font-weight="normal" >0</text>
<text x="504.49999999999994" y="304.9" font-size="19.6" fill="#1a1a1a" text-anchor="end" font-weight="normal" >100</text>
<text x="504.49999999999994" y="401.3" font-size="19.6" fill="#1a1a1a" text-anchor="end" font-weight="normal" >200</text>
<text x="504.49999999999994" y="497.7" font-size="19.6" fill="#1a1a1a" text-anchor="end" font-weight="normal" >300</text>
<text x="504.49999999999994" y="594.1" font-size="19.6" fill="#1a1a1a" text-anchor="end" font-weight="normal" >400</text>
<text x="504.49999999999994" y="690.5" font-size="19.6" fill="#1a1a1a" text-anchor="end" font-weight="normal" >500</text>
<text x="504.49999999999994" y="786.9" font-size="19.6" fill="#1a1a1a" text-anchor="end" font-weight="normal" >600</text>
<text x="504.49999999999994" y="814.3" font-size="17.7" fill="#1a1a1a" text-anchor="end" font-weight="normal" >1460</text>
<text transform="translate(453.2,534) rotate(-90)" font-size="19.7" fill="#1a1a1a" textLength="87.8" lengthAdjust="spacingAndGlyphs">Depth (m)</text>
<g style="isolation:isolate">
<polyline points="1041.4,205.1 1038.9,207.6 1038.6,211.3 1046.4,212.6 1047.7,214.5 1077.8,216.1 1103.0,217.6 1109.2,218.6 1146.9,219.5 1153.2,220.8 1185.0,221.4 1195.1,221.6 1211.4,223.9 1220.2,225.8 1222.1,228.3 1230.3,232.7 1235.3,235.2 1233.4,238.3 1235.9,242.1 1245.3,244.6 1261.7,246.5 1270.5,249.0 1279.3,252.8 1284.3,257.8 1279.3,261.6 1274.2,266.0 1279.3,270.4 1280.5,274.8 1286.8,278.6 1284.3,283.0 1290.6,285.5 1289.9,288.6 1286.2,291.7 1290.6,296.8 1294.3,302.0 1289.5,295.0 1298.2,305.1 1300.8,320.1 1300.8,335.2 1298.2,350.3 1295.7,367.9 1295.7,388.0 1292.5,403.1 1292.5,425.7 1294.0,450.8 1295.7,470.9 1295.0,491.0 1294.0,509.1" fill="none" stroke="#6c67b3" stroke-width="2.0" stroke-linejoin="round" stroke-linecap="round"/>
<polyline points="1294.0,500.0 1293.9,505.4 1293.8,510.8 1293.2,516.2 1293.3,521.5 1293.0,526.9 1292.8,532.3 1292.2,537.7 1291.9,543.1 1291.9,548.5 1291.9,553.9 1291.3,559.2 1291.2,564.6 1290.8,570.0 1290.9,575.4 1290.3,580.4 1289.4,585.4 1287.2,590.5 1284.2,595.5 1284.2,600.5 1283.8,605.6 1283.0,610.6 1288.3,616.1 1283.6,618.4 1279.2,620.6 1283.4,623.1 1288.2,625.7 1289.1,630.7 1289.5,635.7 1289.3,640.7 1289.2,645.8 1289.7,650.8 1289.4,655.8 1289.1,660.8 1288.0,665.9 1287.8,670.9 1287.1,675.9 1284.9,681.6 1282.1,687.2 1283.3,692.9 1284.2,698.5 1283.3,704.8 1282.8,704.4 1278.7,707.5 1282.8,710.6 1282.1,717.7 1284.9,726.6 1284.2,732.5 1284.1,738.4 1284.0,744.3 1282.9,750.6 1281.9,756.8 1280.9,763.9 1280.4,771.0 1280.5,776.3 1278.0,779.8" fill="none" stroke="#6c67b3" stroke-width="1.8" stroke-linejoin="round" stroke-linecap="round"/>
<polyline points="1291.8,204.0 1289.6,206.9 1289.9,210.7 1294.3,212.6 1296.8,214.5 1305.6,215.1 1311.3,216.6 1310.7,218.2 1303.1,219.9 1286.8,221.1 1274.2,222.6 1255.4,225.2 1236.5,227.0 1217.7,229.6 1200.1,232.4 1207.6,233.3 1216.4,235.8 1205.1,237.7 1195.1,239.6 1189.4,243.4 1198.8,245.3 1217.7,246.5 1230.3,249.7 1237.8,252.2 1240.1,255.3 1237.8,259.1 1227.7,261.6 1218.9,263.5 1219.6,266.6 1211.4,268.5 1215.8,271.6 1208.3,274.8 1218.3,278.6 1208.3,284.2 1220.2,286.1 1209.5,293.0 1214.6,298.0 1217.1,302.0 1211.5,295.0 1221.6,305.1 1221.6,320.1 1217.8,335.2 1211.5,345.3 1205.3,355.3 1200.2,367.9 1195.2,381.7 1192.7,393.0 1185.2,403.1 1183.9,413.1 1180.1,423.2 1178.9,438.3 1180.1,453.3 1180.9,470.9 1177.6,483.5 1173.8,498.6 1171.8,509.1" fill="none" stroke="#dd5f1b" stroke-width="2.1" stroke-linejoin="round" stroke-linecap="round"/>
<polyline points="1174.9,500.0 1173.6,504.2 1171.9,508.4 1170.4,512.6 1169.8,516.8 1169.9,520.9 1169.8,525.1 1168.3,529.5 1167.1,533.9 1165.1,538.3 1163.8,542.7 1162.0,547.1 1160.5,551.5 1159.0,555.9 1157.8,560.3 1156.3,564.9 1154.6,569.5 1153.6,574.1 1150.4,576.7 1151.0,581.1 1151.0,585.4 1146.2,587.3 1141.4,589.2 1138.2,592.4 1135.2,595.5 1133.5,599.3 1131.4,603.0 1130.1,610.6 1133.6,612.4 1137.6,614.3 1141.2,616.1 1136.9,616.9 1132.7,617.8 1128.6,618.6 1124.3,619.5 1119.9,620.3 1116.3,621.1 1120.8,622.0 1125.5,622.9 1129.8,623.9 1134.2,624.8 1138.9,625.7 1139.6,630.7 1136.9,635.7 1133.6,640.7 1133.1,645.8 1132.9,650.8 1131.6,655.8 1129.9,660.8 1128.6,665.9 1124.9,669.6 1121.0,673.4 1117.6,677.8 1114.8,682.2 1110.2,684.7 1105.8,687.2 1106.7,691.6 1107.9,696.0 1106.9,700.4 1106.6,704.8 1107.3,704.4 1102.2,705.4 1097.8,706.4 1093.4,707.5 1097.6,709.0 1102.5,710.6 1103.9,714.2 1099.5,718.6 1103.8,723.1 1103.4,726.6 1102.7,730.9 1102.2,735.1 1101.4,739.4 1100.4,743.6 1099.0,747.9 1095.1,752.3 1093.4,756.8 1092.3,761.2 1085.7,765.6 1084.6,771.0 1082.5,776.3 1078.2,779.8" fill="none" stroke="#dd5f1b" stroke-width="1.9" stroke-linejoin="round" stroke-linecap="round"/>
<polyline points="1041.4,204.4 1044.5,205.7 1045.8,209.4 1047.7,213.2 1077.8,214.5 1121.8,215.1 1153.2,216.1 1185.0,218.2 1180.0,217.4 1217.7,218.0 1255.4,218.9 1280.5,221.4 1305.6,223.9 1324.5,225.4 1331.4,226.4 1318.2,227.9 1293.1,229.2 1255.4,229.9 1217.7,230.8 1204.5,231.4 1217.7,232.4 1239.7,233.1 1217.7,233.1 1198.8,234.6 1180.0,237.7 1153.2,239.0 1115.5,240.9 1087.2,241.5 1091.6,243.4 1065.3,245.3 1056.5,246.5 1052.1,249.0 1051.4,252.8 1054.2,254.1 1053.3,257.8 1060.9,259.1 1053.9,260.3 1049.6,261.6 1047.7,265.4 1045.2,267.9 1048.3,271.6 1045.8,275.4 1043.3,277.9 1043.6,284.2 1041.4,285.5 1040.8,291.7 1038.9,292.4 1040.4,294.3 1038.9,302.0" fill="none" stroke="#15986f" stroke-width="2.4" stroke-linejoin="round" stroke-linecap="round"/>
<polyline points="1038.8,295.0 1038.6,296.9 1038.7,298.8 1037.7,300.7 1037.4,302.5 1037.5,304.4 1036.9,306.3 1037.3,308.2 1037.4,310.1 1037.6,312.0 1036.6,313.8 1036.9,315.7 1036.6,317.6 1037.5,319.5 1037.3,321.4 1036.4,323.3 1037.7,325.2 1037.6,327.0 1037.2,328.9 1037.1,330.8 1036.4,332.7 1036.2,334.5 1036.9,336.4 1036.3,338.3 1036.4,340.1 1036.5,342.0 1036.2,343.8 1036.8,345.7 1036.8,347.5 1037.4,349.4 1036.9,351.2 1037.1,353.1 1036.9,354.9 1037.1,356.8 1036.8,358.6 1036.6,360.5 1037.6,362.3 1037.6,364.2 1037.4,366.0 1037.2,367.9 1036.3,369.9 1035.8,371.9 1035.5,373.9 1034.9,375.9 1035.5,377.9 1035.0,379.8 1035.6,381.6 1035.0,383.4 1035.8,385.3 1035.6,387.1 1034.4,388.9 1034.7,390.8 1035.7,392.6 1035.1,394.4 1035.8,396.3 1035.0,398.1 1034.5,399.9 1035.3,401.8 1035.5,403.6 1034.8,405.4 1034.5,407.3 1034.9,409.1 1035.8,410.9 1035.5,412.8 1034.6,414.6 1034.8,416.4 1034.6,418.3 1034.5,420.1 1035.5,422.0 1034.7,423.8 1035.2,425.6 1035.0,427.5 1034.7,429.3 1035.4,431.1 1034.6,433.0 1035.3,434.8 1034.6,436.6 1035.0,438.5 1034.7,440.3 1034.8,442.1 1035.8,444.0 1035.5,445.8 1034.3,448.3" fill="none" stroke="#15986f" stroke-width="2.1" stroke-linejoin="round" stroke-linecap="round"/>
<rect x="1017.5" y="210.2" width="326.2" height="157.4" fill="#ecedee" style="mix-blend-mode:multiply"/>
<rect x="1017.5" y="470" width="326.2" height="238" fill="#c2c2c2" style="mix-blend-mode:multiply"/>
</g>
<path d="M1028.5 106.3 H1340.1000000000001" stroke="#15986f" stroke-width="1.4" fill="none"/>
<path d="M1029.2 106.3 V94.1M1132.6 106.3 V94.1M1236.0 106.3 V94.1M1339.4 106.3 V94.1" stroke="#15986f" stroke-width="1.4" fill="none"/>
<text x="1029.2" y="89.7" font-size="19" fill="#15986f" text-anchor="middle" font-weight="normal" >0.0</text>
<text x="1132.6" y="89.7" font-size="19" fill="#15986f" text-anchor="middle" font-weight="normal" >0.5</text>
<text x="1236.0" y="89.7" font-size="19" fill="#15986f" text-anchor="middle" font-weight="normal" >1.0</text>
<text x="1339.4" y="89.7" font-size="19" fill="#15986f" text-anchor="middle" font-weight="normal" >1.5</text>
<text x="1022.3" y="101.4" font-size="19" fill="#15986f" text-anchor="end" font-weight="normal" textLength="110.8" lengthAdjust="spacingAndGlyphs" >chlorophyll a</text>
<path d="M1028.5 142.2 H1340.1000000000001" stroke="#8d89c4" stroke-width="1.4" fill="none"/>
<path d="M1029.2 142.2 V130.0M1073.5 142.2 V130.0M1117.8 142.2 V130.0M1162.1 142.2 V130.0M1206.5 142.2 V130.0M1250.8 142.2 V130.0M1295.1 142.2 V130.0M1339.4 142.2 V130.0" stroke="#8d89c4" stroke-width="1.4" fill="none"/>
<text x="1029.2" y="125.7" font-size="19" fill="#8d89c4" text-anchor="middle" font-weight="normal" >33.8</text>
<text x="1117.8" y="125.7" font-size="19" fill="#8d89c4" text-anchor="middle" font-weight="normal" >34.2</text>
<text x="1206.5" y="125.7" font-size="19" fill="#8d89c4" text-anchor="middle" font-weight="normal" >34.6</text>
<text x="1295.1" y="125.7" font-size="19" fill="#8d89c4" text-anchor="middle" font-weight="normal" >35.0</text>
<text x="1014.3" y="137.4" font-size="19" fill="#8d89c4" text-anchor="end" font-weight="normal" textLength="60" lengthAdjust="spacingAndGlyphs" >salinity</text>
<path d="M1028.5 178.2 H1340.1000000000001" stroke="#dd5f1b" stroke-width="1.4" fill="none"/>
<path d="M1029.2 178.2 V166.0M1080.9 178.2 V166.0M1132.6 178.2 V166.0M1184.3 178.2 V166.0M1236.0 178.2 V166.0M1287.7 178.2 V166.0M1339.4 178.2 V166.0" stroke="#dd5f1b" stroke-width="1.4" fill="none"/>
<text x="1029.2" y="161.7" font-size="19" fill="#dd5f1b" text-anchor="middle" font-weight="normal" >0</text>
<text x="1080.9" y="161.7" font-size="19" fill="#dd5f1b" text-anchor="middle" font-weight="normal" >1</text>
<text x="1132.6" y="161.7" font-size="19" fill="#dd5f1b" text-anchor="middle" font-weight="normal" >2</text>
<text x="1184.3" y="161.7" font-size="19" fill="#dd5f1b" text-anchor="middle" font-weight="normal" >3</text>
<text x="1236.0" y="161.7" font-size="19" fill="#dd5f1b" text-anchor="middle" font-weight="normal" >4</text>
<text x="1287.7" y="161.7" font-size="19" fill="#dd5f1b" text-anchor="middle" font-weight="normal" >5</text>
<text x="1339.4" y="161.7" font-size="19" fill="#dd5f1b" text-anchor="middle" font-weight="normal" >6</text>
<text x="1020.5" y="173.4" font-size="19" fill="#dd5f1b" text-anchor="end" font-weight="normal" textLength="106.5" lengthAdjust="spacingAndGlyphs" >temperature</text>
<path d="M1016.8 200.9 V772.5" stroke="#333333" stroke-width="1.2" fill="none"/>
<path d="M1004.3 201.5 H1017.4M1004.3 297.9 H1017.4M1004.3 394.3 H1017.4M1004.3 490.7 H1017.4M1004.3 587.1 H1017.4M1004.3 683.5 H1017.4M1004.3 779.9 H1013.3M1012.8 780.6 L1020.4 767.2M1012.8 792.6 L1020.4 780.2M1017.5999999999999 786.5 V807.3 H1004.3" stroke="#333333" stroke-width="1.2" fill="none"/>
<text x="1004.0" y="208.5" font-size="19.6" fill="#1a1a1a" text-anchor="end" font-weight="normal" >0</text>
<text x="1004.0" y="304.9" font-size="19.6" fill="#1a1a1a" text-anchor="end" font-weight="normal" >100</text>
<text x="1004.0" y="401.3" font-size="19.6" fill="#1a1a1a" text-anchor="end" font-weight="normal" >200</text>
<text x="1004.0" y="497.7" font-size="19.6" fill="#1a1a1a" text-anchor="end" font-weight="normal" >300</text>
<text x="1004.0" y="594.1" font-size="19.6" fill="#1a1a1a" text-anchor="end" font-weight="normal" >400</text>
<text x="1004.0" y="690.5" font-size="19.6" fill="#1a1a1a" text-anchor="end" font-weight="normal" >500</text>
<text x="1004.0" y="786.9" font-size="19.6" fill="#1a1a1a" text-anchor="end" font-weight="normal" >600</text>
<text x="1004.0" y="814.0" font-size="17.7" fill="#1a1a1a" text-anchor="end" font-weight="normal" >3206</text>
<text transform="translate(952.7,534) rotate(-90)" font-size="19.7" fill="#1a1a1a" textLength="87.8" lengthAdjust="spacingAndGlyphs">Depth (m)</text>
</svg></body></html>
